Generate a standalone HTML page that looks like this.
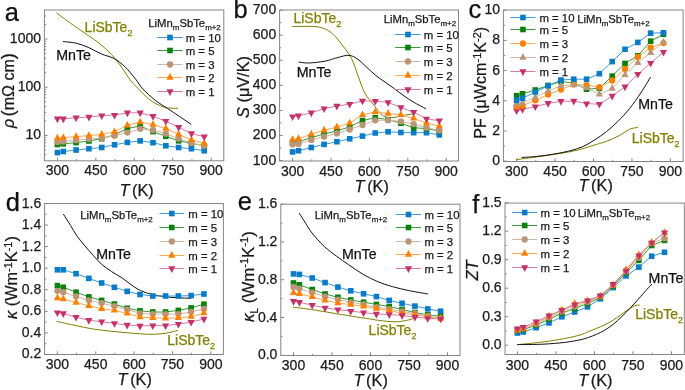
<!DOCTYPE html>
<html><head><meta charset="utf-8"><style>
html,body{margin:0;padding:0;background:#fff;}
body{width:685px;height:390px;overflow:hidden;}
svg{display:block;font-family:"Liberation Sans",sans-serif;will-change:transform;}
</style></head><body>
<svg xmlns="http://www.w3.org/2000/svg" width="685" height="390" viewBox="0 0 685 390" font-family='Liberation Sans, sans-serif'>
<rect width="685" height="390" fill="#fff"/>
<rect x="44.4" y="10" width="179.4" height="150.8" fill="none" stroke="#858585" stroke-width="1"/>
<line x1="57.4" y1="160.8" x2="57.4" y2="157.6" stroke="#858585" stroke-width="1"/>
<text x="57.4" y="175.1" font-size="14" text-anchor="middle" fill="#1a1a1a" stroke="#1a1a1a" stroke-width="0.25">300</text>
<line x1="95.84" y1="160.8" x2="95.84" y2="157.6" stroke="#858585" stroke-width="1"/>
<text x="95.84" y="175.1" font-size="14" text-anchor="middle" fill="#1a1a1a" stroke="#1a1a1a" stroke-width="0.25">450</text>
<line x1="134.29" y1="160.8" x2="134.29" y2="157.6" stroke="#858585" stroke-width="1"/>
<text x="134.29" y="175.1" font-size="14" text-anchor="middle" fill="#1a1a1a" stroke="#1a1a1a" stroke-width="0.25">600</text>
<line x1="172.73" y1="160.8" x2="172.73" y2="157.6" stroke="#858585" stroke-width="1"/>
<text x="172.73" y="175.1" font-size="14" text-anchor="middle" fill="#1a1a1a" stroke="#1a1a1a" stroke-width="0.25">750</text>
<line x1="211.18" y1="160.8" x2="211.18" y2="157.6" stroke="#858585" stroke-width="1"/>
<text x="211.18" y="175.1" font-size="14" text-anchor="middle" fill="#1a1a1a" stroke="#1a1a1a" stroke-width="0.25">900</text>
<line x1="76.62" y1="160.8" x2="76.62" y2="159.1" stroke="#858585" stroke-width="1"/>
<line x1="115.07" y1="160.8" x2="115.07" y2="159.1" stroke="#858585" stroke-width="1"/>
<line x1="153.51" y1="160.8" x2="153.51" y2="159.1" stroke="#858585" stroke-width="1"/>
<line x1="191.96" y1="160.8" x2="191.96" y2="159.1" stroke="#858585" stroke-width="1"/>
<line x1="44.4" y1="135.4" x2="47.6" y2="135.4" stroke="#858585" stroke-width="1"/>
<text x="41" y="139.4" font-size="14" text-anchor="end" fill="#1a1a1a" stroke="#1a1a1a" stroke-width="0.25">10</text>
<line x1="44.4" y1="87.2" x2="47.6" y2="87.2" stroke="#858585" stroke-width="1"/>
<text x="41" y="91.2" font-size="14" text-anchor="end" fill="#1a1a1a" stroke="#1a1a1a" stroke-width="0.25">100</text>
<line x1="44.4" y1="39" x2="47.6" y2="39" stroke="#858585" stroke-width="1"/>
<text x="41" y="43" font-size="14" text-anchor="end" fill="#1a1a1a" stroke="#1a1a1a" stroke-width="0.25">1000</text>
<line x1="44.4" y1="154.58" x2="46.1" y2="154.58" stroke="#858585" stroke-width="1"/>
<line x1="44.4" y1="149.91" x2="46.1" y2="149.91" stroke="#858585" stroke-width="1"/>
<line x1="44.4" y1="146.09" x2="46.1" y2="146.09" stroke="#858585" stroke-width="1"/>
<line x1="44.4" y1="142.87" x2="46.1" y2="142.87" stroke="#858585" stroke-width="1"/>
<line x1="44.4" y1="140.07" x2="46.1" y2="140.07" stroke="#858585" stroke-width="1"/>
<line x1="44.4" y1="137.61" x2="46.1" y2="137.61" stroke="#858585" stroke-width="1"/>
<line x1="44.4" y1="120.89" x2="46.1" y2="120.89" stroke="#858585" stroke-width="1"/>
<line x1="44.4" y1="112.4" x2="46.1" y2="112.4" stroke="#858585" stroke-width="1"/>
<line x1="44.4" y1="106.38" x2="46.1" y2="106.38" stroke="#858585" stroke-width="1"/>
<line x1="44.4" y1="101.71" x2="46.1" y2="101.71" stroke="#858585" stroke-width="1"/>
<line x1="44.4" y1="97.89" x2="46.1" y2="97.89" stroke="#858585" stroke-width="1"/>
<line x1="44.4" y1="94.67" x2="46.1" y2="94.67" stroke="#858585" stroke-width="1"/>
<line x1="44.4" y1="91.87" x2="46.1" y2="91.87" stroke="#858585" stroke-width="1"/>
<line x1="44.4" y1="89.41" x2="46.1" y2="89.41" stroke="#858585" stroke-width="1"/>
<line x1="44.4" y1="72.69" x2="46.1" y2="72.69" stroke="#858585" stroke-width="1"/>
<line x1="44.4" y1="64.2" x2="46.1" y2="64.2" stroke="#858585" stroke-width="1"/>
<line x1="44.4" y1="58.18" x2="46.1" y2="58.18" stroke="#858585" stroke-width="1"/>
<line x1="44.4" y1="53.51" x2="46.1" y2="53.51" stroke="#858585" stroke-width="1"/>
<line x1="44.4" y1="49.69" x2="46.1" y2="49.69" stroke="#858585" stroke-width="1"/>
<line x1="44.4" y1="46.47" x2="46.1" y2="46.47" stroke="#858585" stroke-width="1"/>
<line x1="44.4" y1="43.67" x2="46.1" y2="43.67" stroke="#858585" stroke-width="1"/>
<line x1="44.4" y1="41.21" x2="46.1" y2="41.21" stroke="#858585" stroke-width="1"/>
<line x1="44.4" y1="24.49" x2="46.1" y2="24.49" stroke="#858585" stroke-width="1"/>
<line x1="44.4" y1="16" x2="46.1" y2="16" stroke="#858585" stroke-width="1"/>
<path d="M56.9 13.2 C59.23 14.92 67.07 20.75 70.9 23.5 C74.73 26.25 76.9 27.62 79.9 29.7 C82.9 31.78 85.9 33.9 88.9 36 C91.9 38.1 94.92 39.98 97.9 42.3 C100.88 44.62 103.82 47.05 106.8 49.9 C109.78 52.75 113.1 56.18 115.8 59.4 C118.5 62.62 120.6 65.77 123 69.2 C125.4 72.63 127.93 77.05 130.2 80 C132.47 82.95 133.48 83.7 136.6 86.9 C139.72 90.1 145.13 96.13 148.9 99.2 C152.67 102.27 156.12 103.87 159.2 105.3 C162.28 106.73 164.33 107.28 167.4 107.8 C170.47 108.32 175.9 108.3 177.6 108.4" fill="none" stroke="#808000" stroke-width="1" stroke-linecap="round"/>
<path d="M63.4 41.6 C65.55 41.87 72.05 42.18 76.3 43.2 C80.55 44.22 84.7 45.9 88.9 47.7 C93.1 49.5 97.32 52.2 101.5 54 C105.68 55.8 110.12 56.4 114 58.5 C117.88 60.6 121.2 63.17 124.8 66.6 C128.4 70.03 132.6 75.38 135.6 79.1 C138.6 82.82 139.55 85.38 142.8 88.9 C146.05 92.42 151 96.95 155.1 100.2 C159.2 103.45 163.3 105.67 167.4 108.4 C171.5 111.13 175.78 113.97 179.7 116.6 C183.62 119.23 189.03 122.93 190.9 124.2" fill="none" stroke="#111111" stroke-width="1" stroke-linecap="round"/>
<polyline points="57.4,152.6 63.29,151.5 76.11,150 88.92,148.7 101.74,147.5 114.55,144.8 127.37,142.4 140.18,140.9 153,142.7 165.81,145.8 178.63,147.5 191.44,148.7 204.26,150.8" fill="none" stroke="#3b9ad8" stroke-width="1" stroke-linejoin="round"/>
<rect x="54.6" y="149.8" width="5.6" height="5.6" fill="#0b7bc8"/>
<rect x="60.49" y="148.7" width="5.6" height="5.6" fill="#0b7bc8"/>
<rect x="73.31" y="147.2" width="5.6" height="5.6" fill="#0b7bc8"/>
<rect x="86.12" y="145.9" width="5.6" height="5.6" fill="#0b7bc8"/>
<rect x="98.94" y="144.7" width="5.6" height="5.6" fill="#0b7bc8"/>
<rect x="111.75" y="142" width="5.6" height="5.6" fill="#0b7bc8"/>
<rect x="124.57" y="139.6" width="5.6" height="5.6" fill="#0b7bc8"/>
<rect x="137.38" y="138.1" width="5.6" height="5.6" fill="#0b7bc8"/>
<rect x="150.2" y="139.9" width="5.6" height="5.6" fill="#0b7bc8"/>
<rect x="163.01" y="143" width="5.6" height="5.6" fill="#0b7bc8"/>
<rect x="175.83" y="144.7" width="5.6" height="5.6" fill="#0b7bc8"/>
<rect x="188.64" y="145.9" width="5.6" height="5.6" fill="#0b7bc8"/>
<rect x="201.46" y="148" width="5.6" height="5.6" fill="#0b7bc8"/>
<polyline points="57.4,144.5 63.29,143.8 76.11,142.6 88.92,141 101.74,138.7 114.55,134.8 127.37,128.5 140.18,126 153,131.6 165.81,136.3 178.63,140.8 191.44,143.3 204.26,145.8" fill="none" stroke="#3a993a" stroke-width="1" stroke-linejoin="round"/>
<rect x="54.6" y="141.7" width="5.6" height="5.6" fill="#098009"/>
<rect x="60.49" y="141" width="5.6" height="5.6" fill="#098009"/>
<rect x="73.31" y="139.8" width="5.6" height="5.6" fill="#098009"/>
<rect x="86.12" y="138.2" width="5.6" height="5.6" fill="#098009"/>
<rect x="98.94" y="135.9" width="5.6" height="5.6" fill="#098009"/>
<rect x="111.75" y="132" width="5.6" height="5.6" fill="#098009"/>
<rect x="124.57" y="125.7" width="5.6" height="5.6" fill="#098009"/>
<rect x="137.38" y="123.2" width="5.6" height="5.6" fill="#098009"/>
<rect x="150.2" y="128.8" width="5.6" height="5.6" fill="#098009"/>
<rect x="163.01" y="133.5" width="5.6" height="5.6" fill="#098009"/>
<rect x="175.83" y="138" width="5.6" height="5.6" fill="#098009"/>
<rect x="188.64" y="140.5" width="5.6" height="5.6" fill="#098009"/>
<rect x="201.46" y="143" width="5.6" height="5.6" fill="#098009"/>
<polyline points="57.4,142 63.29,141.5 76.11,140.2 88.92,139 101.74,138 114.55,135.8 127.37,132.6 140.18,128.8 153,130 165.81,133.7 178.63,138.7 191.44,143 204.26,145.8" fill="none" stroke="#d3b7a2" stroke-width="1" stroke-linejoin="round"/>
<circle cx="57.4" cy="142" r="3.15" fill="#bb9578"/>
<circle cx="63.29" cy="141.5" r="3.15" fill="#bb9578"/>
<circle cx="76.11" cy="140.2" r="3.15" fill="#bb9578"/>
<circle cx="88.92" cy="139" r="3.15" fill="#bb9578"/>
<circle cx="101.74" cy="138" r="3.15" fill="#bb9578"/>
<circle cx="114.55" cy="135.8" r="3.15" fill="#bb9578"/>
<circle cx="127.37" cy="132.6" r="3.15" fill="#bb9578"/>
<circle cx="140.18" cy="128.8" r="3.15" fill="#bb9578"/>
<circle cx="153" cy="130" r="3.15" fill="#bb9578"/>
<circle cx="165.81" cy="133.7" r="3.15" fill="#bb9578"/>
<circle cx="178.63" cy="138.7" r="3.15" fill="#bb9578"/>
<circle cx="191.44" cy="143" r="3.15" fill="#bb9578"/>
<circle cx="204.26" cy="145.8" r="3.15" fill="#bb9578"/>
<polyline points="57.4,138.1 63.29,137.6 76.11,136.6 88.92,135.6 101.74,134.4 114.55,131.8 127.37,125.3 140.18,122.1 153,124.6 165.81,128.6 178.63,134.4 191.44,139.8 204.26,143.3" fill="none" stroke="#ffa850" stroke-width="1" stroke-linejoin="round"/>
<path d="M57.4 133.7L61 140.3L53.8 140.3Z" fill="#ff8000"/>
<path d="M63.29 133.2L66.89 139.8L59.69 139.8Z" fill="#ff8000"/>
<path d="M76.11 132.2L79.71 138.8L72.51 138.8Z" fill="#ff8000"/>
<path d="M88.92 131.2L92.52 137.8L85.32 137.8Z" fill="#ff8000"/>
<path d="M101.74 130L105.34 136.6L98.14 136.6Z" fill="#ff8000"/>
<path d="M114.55 127.4L118.15 134L110.95 134Z" fill="#ff8000"/>
<path d="M127.37 120.9L130.97 127.5L123.77 127.5Z" fill="#ff8000"/>
<path d="M140.18 117.7L143.78 124.3L136.58 124.3Z" fill="#ff8000"/>
<path d="M153 120.2L156.6 126.8L149.4 126.8Z" fill="#ff8000"/>
<path d="M165.81 124.2L169.41 130.8L162.21 130.8Z" fill="#ff8000"/>
<path d="M178.63 130L182.23 136.6L175.03 136.6Z" fill="#ff8000"/>
<path d="M191.44 135.4L195.04 142L187.84 142Z" fill="#ff8000"/>
<path d="M204.26 138.9L207.86 145.5L200.66 145.5Z" fill="#ff8000"/>
<polyline points="57.4,118.8 63.29,118.8 76.11,117.8 88.92,117 101.74,115.6 114.55,115.1 127.37,112.8 140.18,112.8 153,116.3 165.81,121.2 178.63,127.3 191.44,133.5 204.26,136.8" fill="none" stroke="#d97aa0" stroke-width="1" stroke-linejoin="round"/>
<path d="M53.8 116.6L61 116.6L57.4 123.2Z" fill="#c2336b"/>
<path d="M59.69 116.6L66.89 116.6L63.29 123.2Z" fill="#c2336b"/>
<path d="M72.51 115.6L79.71 115.6L76.11 122.2Z" fill="#c2336b"/>
<path d="M85.32 114.8L92.52 114.8L88.92 121.4Z" fill="#c2336b"/>
<path d="M98.14 113.4L105.34 113.4L101.74 120Z" fill="#c2336b"/>
<path d="M110.95 112.9L118.15 112.9L114.55 119.5Z" fill="#c2336b"/>
<path d="M123.77 110.6L130.97 110.6L127.37 117.2Z" fill="#c2336b"/>
<path d="M136.58 110.6L143.78 110.6L140.18 117.2Z" fill="#c2336b"/>
<path d="M149.4 114.1L156.6 114.1L153 120.7Z" fill="#c2336b"/>
<path d="M162.21 119L169.41 119L165.81 125.6Z" fill="#c2336b"/>
<path d="M175.03 125.1L182.23 125.1L178.63 131.7Z" fill="#c2336b"/>
<path d="M187.84 131.3L195.04 131.3L191.44 137.9Z" fill="#c2336b"/>
<path d="M200.66 134.6L207.86 134.6L204.26 141.2Z" fill="#c2336b"/>
<text x="84.6" y="31.7" font-size="14" fill="#808000" stroke="#808000" stroke-width="0.25">LiSbTe<tspan font-size="8.96" dy="3.8">2</tspan></text>
<text x="56.3" y="59.7" font-size="14.2" text-anchor="start" fill="#111111" stroke="#111111" stroke-width="0.25">MnTe</text>
<text x="148.3" y="27.3" font-size="11.3" text-anchor="start" fill="#1a1a1a" stroke="#1a1a1a" stroke-width="0.25">LiMn<tspan font-size="7.91" dy="3">m</tspan><tspan dy="-3">SbTe</tspan><tspan font-size="7.91" dy="3">m+2</tspan></text>
<line x1="157.3" y1="37.5" x2="182.7" y2="37.5" stroke="#3b9ad8" stroke-width="1"/>
<rect x="167.2" y="34.7" width="5.6" height="5.6" fill="#0b7bc8"/>
<text x="185.7" y="41.6" font-size="11.4" text-anchor="start" fill="#1a1a1a" stroke="#1a1a1a" stroke-width="0.25">m = 10</text>
<line x1="157.3" y1="50.5" x2="182.7" y2="50.5" stroke="#3a993a" stroke-width="1"/>
<rect x="167.2" y="47.7" width="5.6" height="5.6" fill="#098009"/>
<text x="185.7" y="54.6" font-size="11.4" text-anchor="start" fill="#1a1a1a" stroke="#1a1a1a" stroke-width="0.25">m = 5</text>
<line x1="157.3" y1="64.5" x2="182.7" y2="64.5" stroke="#d3b7a2" stroke-width="1"/>
<circle cx="170" cy="64.5" r="3.15" fill="#bb9578"/>
<text x="185.7" y="68.6" font-size="11.4" text-anchor="start" fill="#1a1a1a" stroke="#1a1a1a" stroke-width="0.25">m = 3</text>
<line x1="157.3" y1="77.5" x2="182.7" y2="77.5" stroke="#ffa850" stroke-width="1"/>
<path d="M170 73.1L173.6 79.7L166.4 79.7Z" fill="#ff8000"/>
<text x="185.7" y="81.6" font-size="11.4" text-anchor="start" fill="#1a1a1a" stroke="#1a1a1a" stroke-width="0.25">m = 2</text>
<line x1="157.3" y1="91.5" x2="182.7" y2="91.5" stroke="#d97aa0" stroke-width="1"/>
<path d="M166.4 89.3L173.6 89.3L170 95.9Z" fill="#c2336b"/>
<text x="185.7" y="95.6" font-size="11.4" text-anchor="start" fill="#1a1a1a" stroke="#1a1a1a" stroke-width="0.25">m = 1</text>
<text x="4.8" y="21.1" font-size="25.5" text-anchor="start" fill="#111111" stroke="#111111" stroke-width="0.25">a</text>
<text transform="translate(13.6 84.8) rotate(-90)" x="0" y="0" font-size="16" text-anchor="middle" fill="#1a1a1a" stroke="#1a1a1a" stroke-width="0.25"><tspan font-size="18.5">(</tspan>mΩ cm<tspan font-size="18.5">)</tspan></text>
<text transform="translate(14.4 123.5) rotate(-90)" x="0" y="0" font-size="16" text-anchor="middle" fill="#1a1a1a" stroke="#1a1a1a" stroke-width="0.25"><tspan font-style="italic">ρ</tspan></text>
<text x="119.4" y="195.8" font-size="16.3" fill="#1a1a1a" font-style="italic" stroke="#1a1a1a" stroke-width="0.25">T</text><text x="132" y="195.8" font-size="16.3" fill="#1a1a1a" stroke="#1a1a1a" stroke-width="0.25">(K)</text>
<rect x="279.6" y="10" width="178.9" height="151" fill="none" stroke="#858585" stroke-width="1"/>
<line x1="292.6" y1="161" x2="292.6" y2="157.8" stroke="#858585" stroke-width="1"/>
<text x="292.6" y="175.9" font-size="14" text-anchor="middle" fill="#1a1a1a" stroke="#1a1a1a" stroke-width="0.25">300</text>
<line x1="331" y1="161" x2="331" y2="157.8" stroke="#858585" stroke-width="1"/>
<text x="331" y="175.9" font-size="14" text-anchor="middle" fill="#1a1a1a" stroke="#1a1a1a" stroke-width="0.25">450</text>
<line x1="369.4" y1="161" x2="369.4" y2="157.8" stroke="#858585" stroke-width="1"/>
<text x="369.4" y="175.9" font-size="14" text-anchor="middle" fill="#1a1a1a" stroke="#1a1a1a" stroke-width="0.25">600</text>
<line x1="407.8" y1="161" x2="407.8" y2="157.8" stroke="#858585" stroke-width="1"/>
<text x="407.8" y="175.9" font-size="14" text-anchor="middle" fill="#1a1a1a" stroke="#1a1a1a" stroke-width="0.25">750</text>
<line x1="446.2" y1="161" x2="446.2" y2="157.8" stroke="#858585" stroke-width="1"/>
<text x="446.2" y="175.9" font-size="14" text-anchor="middle" fill="#1a1a1a" stroke="#1a1a1a" stroke-width="0.25">900</text>
<line x1="311.8" y1="161" x2="311.8" y2="159.3" stroke="#858585" stroke-width="1"/>
<line x1="350.2" y1="161" x2="350.2" y2="159.3" stroke="#858585" stroke-width="1"/>
<line x1="388.6" y1="161" x2="388.6" y2="159.3" stroke="#858585" stroke-width="1"/>
<line x1="427" y1="161" x2="427" y2="159.3" stroke="#858585" stroke-width="1"/>
<line x1="279.6" y1="160.5" x2="282.8" y2="160.5" stroke="#858585" stroke-width="1"/>
<text x="276.2" y="164.5" font-size="14" text-anchor="end" fill="#1a1a1a" stroke="#1a1a1a" stroke-width="0.25">100</text>
<line x1="279.6" y1="135.45" x2="282.8" y2="135.45" stroke="#858585" stroke-width="1"/>
<text x="276.2" y="139.45" font-size="14" text-anchor="end" fill="#1a1a1a" stroke="#1a1a1a" stroke-width="0.25">200</text>
<line x1="279.6" y1="110.4" x2="282.8" y2="110.4" stroke="#858585" stroke-width="1"/>
<text x="276.2" y="114.4" font-size="14" text-anchor="end" fill="#1a1a1a" stroke="#1a1a1a" stroke-width="0.25">300</text>
<line x1="279.6" y1="85.35" x2="282.8" y2="85.35" stroke="#858585" stroke-width="1"/>
<text x="276.2" y="89.35" font-size="14" text-anchor="end" fill="#1a1a1a" stroke="#1a1a1a" stroke-width="0.25">400</text>
<line x1="279.6" y1="60.3" x2="282.8" y2="60.3" stroke="#858585" stroke-width="1"/>
<text x="276.2" y="64.3" font-size="14" text-anchor="end" fill="#1a1a1a" stroke="#1a1a1a" stroke-width="0.25">500</text>
<line x1="279.6" y1="35.25" x2="282.8" y2="35.25" stroke="#858585" stroke-width="1"/>
<text x="276.2" y="39.25" font-size="14" text-anchor="end" fill="#1a1a1a" stroke="#1a1a1a" stroke-width="0.25">600</text>
<line x1="279.6" y1="10.2" x2="282.8" y2="10.2" stroke="#858585" stroke-width="1"/>
<text x="276.2" y="14.2" font-size="14" text-anchor="end" fill="#1a1a1a" stroke="#1a1a1a" stroke-width="0.25">700</text>
<line x1="279.6" y1="147.97" x2="281.3" y2="147.97" stroke="#858585" stroke-width="1"/>
<line x1="279.6" y1="122.92" x2="281.3" y2="122.92" stroke="#858585" stroke-width="1"/>
<line x1="279.6" y1="97.88" x2="281.3" y2="97.88" stroke="#858585" stroke-width="1"/>
<line x1="279.6" y1="72.83" x2="281.3" y2="72.83" stroke="#858585" stroke-width="1"/>
<line x1="279.6" y1="47.78" x2="281.3" y2="47.78" stroke="#858585" stroke-width="1"/>
<line x1="279.6" y1="22.73" x2="281.3" y2="22.73" stroke="#858585" stroke-width="1"/>
<path d="M292.6 26.5 C294.67 26.48 301.12 26.38 305 26.4 C308.88 26.42 312.28 26.05 315.9 26.6 C319.52 27.15 323.4 27.98 326.7 29.7 C330 31.42 333.02 34.2 335.7 36.9 C338.38 39.6 340.58 43.05 342.8 45.9 C345.02 48.75 347.22 51.15 349 54 C350.78 56.85 352.23 60.02 353.5 63 C354.77 65.98 355.53 68.92 356.6 71.9 C357.67 74.88 358.78 77.9 359.9 80.9 C361.02 83.9 362.08 87.22 363.3 89.9 C364.52 92.58 365.85 94.98 367.2 97 C368.55 99.02 369.68 99.85 371.4 102 C373.12 104.15 375.75 107.78 377.5 109.9 C379.25 112.02 380.58 113.53 381.9 114.7 C383.22 115.87 384.23 116.37 385.4 116.9 C386.57 117.43 387.3 117.83 388.9 117.9 C390.5 117.97 392.82 117.65 395 117.3 C397.18 116.95 399.67 116.28 402 115.8 C404.33 115.32 407.1 114.73 409 114.4 C410.9 114.07 412.67 113.9 413.4 113.8" fill="none" stroke="#808000" stroke-width="1" stroke-linecap="round"/>
<path d="M298.9 62.1 C300.53 62.25 304.37 63.15 308.7 63 C313.03 62.85 320.1 62.1 324.9 61.2 C329.7 60.3 333.48 58.58 337.5 57.6 C341.52 56.62 345.58 55 349 55.3 C352.42 55.6 355.02 57.38 358 59.4 C360.98 61.42 363.92 64.72 366.9 67.4 C369.88 70.08 372.88 73.05 375.9 75.5 C378.92 77.95 381.9 79.88 385 82.1 C388.1 84.32 391.33 86.5 394.5 88.8 C397.67 91.1 400.83 93.68 404 95.9 C407.17 98.12 409.87 99.97 413.5 102.1 C417.13 104.23 423.75 107.6 425.8 108.7" fill="none" stroke="#111111" stroke-width="1" stroke-linecap="round"/>
<polyline points="292.6,151.9 298.49,150.7 311.29,147.5 324.09,144.4 336.89,141.7 349.69,138.8 362.49,136.1 375.29,133 388.09,131.8 400.89,132.5 413.69,132.7 426.49,132.7 439.29,134.9" fill="none" stroke="#3b9ad8" stroke-width="1" stroke-linejoin="round"/>
<rect x="289.8" y="149.1" width="5.6" height="5.6" fill="#0b7bc8"/>
<rect x="295.69" y="147.9" width="5.6" height="5.6" fill="#0b7bc8"/>
<rect x="308.49" y="144.7" width="5.6" height="5.6" fill="#0b7bc8"/>
<rect x="321.29" y="141.6" width="5.6" height="5.6" fill="#0b7bc8"/>
<rect x="334.09" y="138.9" width="5.6" height="5.6" fill="#0b7bc8"/>
<rect x="346.89" y="136" width="5.6" height="5.6" fill="#0b7bc8"/>
<rect x="359.69" y="133.3" width="5.6" height="5.6" fill="#0b7bc8"/>
<rect x="372.49" y="130.2" width="5.6" height="5.6" fill="#0b7bc8"/>
<rect x="385.29" y="129" width="5.6" height="5.6" fill="#0b7bc8"/>
<rect x="398.09" y="129.7" width="5.6" height="5.6" fill="#0b7bc8"/>
<rect x="410.89" y="129.9" width="5.6" height="5.6" fill="#0b7bc8"/>
<rect x="423.69" y="129.9" width="5.6" height="5.6" fill="#0b7bc8"/>
<rect x="436.49" y="132.1" width="5.6" height="5.6" fill="#0b7bc8"/>
<polyline points="292.6,142.1 298.49,141.7 311.29,137.6 324.09,134 336.89,130.9 349.69,126.8 362.49,120.5 375.29,117.8 388.09,119.6 400.89,123.2 413.69,127.7 426.49,128.6 439.29,130.9" fill="none" stroke="#3a993a" stroke-width="1" stroke-linejoin="round"/>
<rect x="289.8" y="139.3" width="5.6" height="5.6" fill="#098009"/>
<rect x="295.69" y="138.9" width="5.6" height="5.6" fill="#098009"/>
<rect x="308.49" y="134.8" width="5.6" height="5.6" fill="#098009"/>
<rect x="321.29" y="131.2" width="5.6" height="5.6" fill="#098009"/>
<rect x="334.09" y="128.1" width="5.6" height="5.6" fill="#098009"/>
<rect x="346.89" y="124" width="5.6" height="5.6" fill="#098009"/>
<rect x="359.69" y="117.7" width="5.6" height="5.6" fill="#098009"/>
<rect x="372.49" y="115" width="5.6" height="5.6" fill="#098009"/>
<rect x="385.29" y="116.8" width="5.6" height="5.6" fill="#098009"/>
<rect x="398.09" y="120.4" width="5.6" height="5.6" fill="#098009"/>
<rect x="410.89" y="124.9" width="5.6" height="5.6" fill="#098009"/>
<rect x="423.69" y="125.8" width="5.6" height="5.6" fill="#098009"/>
<rect x="436.49" y="128.1" width="5.6" height="5.6" fill="#098009"/>
<polyline points="292.6,144.4 298.49,143.9 311.29,139.9 324.09,136.7 336.89,133.4 349.69,129.5 362.49,125 375.29,120.3 388.09,120.2 400.89,121.4 413.69,124.1 426.49,127.7 439.29,130.4" fill="none" stroke="#d3b7a2" stroke-width="1" stroke-linejoin="round"/>
<circle cx="292.6" cy="144.4" r="3.15" fill="#bb9578"/>
<circle cx="298.49" cy="143.9" r="3.15" fill="#bb9578"/>
<circle cx="311.29" cy="139.9" r="3.15" fill="#bb9578"/>
<circle cx="324.09" cy="136.7" r="3.15" fill="#bb9578"/>
<circle cx="336.89" cy="133.4" r="3.15" fill="#bb9578"/>
<circle cx="349.69" cy="129.5" r="3.15" fill="#bb9578"/>
<circle cx="362.49" cy="125" r="3.15" fill="#bb9578"/>
<circle cx="375.29" cy="120.3" r="3.15" fill="#bb9578"/>
<circle cx="388.09" cy="120.2" r="3.15" fill="#bb9578"/>
<circle cx="400.89" cy="121.4" r="3.15" fill="#bb9578"/>
<circle cx="413.69" cy="124.1" r="3.15" fill="#bb9578"/>
<circle cx="426.49" cy="127.7" r="3.15" fill="#bb9578"/>
<circle cx="439.29" cy="130.4" r="3.15" fill="#bb9578"/>
<polyline points="292.6,139.6 298.49,138.7 311.29,134.2 324.09,130.2 336.89,127 349.69,123.1 362.49,114.8 375.29,112 388.09,113.5 400.89,114.8 413.69,118.4 426.49,123.1 439.29,126.1" fill="none" stroke="#ffa850" stroke-width="1" stroke-linejoin="round"/>
<path d="M292.6 135.2L296.2 141.8L289 141.8Z" fill="#ff8000"/>
<path d="M298.49 134.3L302.09 140.9L294.89 140.9Z" fill="#ff8000"/>
<path d="M311.29 129.8L314.89 136.4L307.69 136.4Z" fill="#ff8000"/>
<path d="M324.09 125.8L327.69 132.4L320.49 132.4Z" fill="#ff8000"/>
<path d="M336.89 122.6L340.49 129.2L333.29 129.2Z" fill="#ff8000"/>
<path d="M349.69 118.7L353.29 125.3L346.09 125.3Z" fill="#ff8000"/>
<path d="M362.49 110.4L366.09 117L358.89 117Z" fill="#ff8000"/>
<path d="M375.29 107.6L378.89 114.2L371.69 114.2Z" fill="#ff8000"/>
<path d="M388.09 109.1L391.69 115.7L384.49 115.7Z" fill="#ff8000"/>
<path d="M400.89 110.4L404.49 117L397.29 117Z" fill="#ff8000"/>
<path d="M413.69 114L417.29 120.6L410.09 120.6Z" fill="#ff8000"/>
<path d="M426.49 118.7L430.09 125.3L422.89 125.3Z" fill="#ff8000"/>
<path d="M439.29 121.7L442.89 128.3L435.69 128.3Z" fill="#ff8000"/>
<polyline points="292.6,116.7 298.49,115.8 311.29,112.8 324.09,108.7 336.89,106 349.69,104.2 362.49,100.9 375.29,101.2 388.09,102.4 400.89,107.4 413.69,112.2 426.49,118.9 439.29,120.7" fill="none" stroke="#d97aa0" stroke-width="1" stroke-linejoin="round"/>
<path d="M289 114.5L296.2 114.5L292.6 121.1Z" fill="#c2336b"/>
<path d="M294.89 113.6L302.09 113.6L298.49 120.2Z" fill="#c2336b"/>
<path d="M307.69 110.6L314.89 110.6L311.29 117.2Z" fill="#c2336b"/>
<path d="M320.49 106.5L327.69 106.5L324.09 113.1Z" fill="#c2336b"/>
<path d="M333.29 103.8L340.49 103.8L336.89 110.4Z" fill="#c2336b"/>
<path d="M346.09 102L353.29 102L349.69 108.6Z" fill="#c2336b"/>
<path d="M358.89 98.7L366.09 98.7L362.49 105.3Z" fill="#c2336b"/>
<path d="M371.69 99L378.89 99L375.29 105.6Z" fill="#c2336b"/>
<path d="M384.49 100.2L391.69 100.2L388.09 106.8Z" fill="#c2336b"/>
<path d="M397.29 105.2L404.49 105.2L400.89 111.8Z" fill="#c2336b"/>
<path d="M410.09 110L417.29 110L413.69 116.6Z" fill="#c2336b"/>
<path d="M422.89 116.7L430.09 116.7L426.49 123.3Z" fill="#c2336b"/>
<path d="M435.69 118.5L442.89 118.5L439.29 125.1Z" fill="#c2336b"/>
<text x="293.4" y="22.9" font-size="14" fill="#808000" stroke="#808000" stroke-width="0.25">LiSbTe<tspan font-size="8.96" dy="3.8">2</tspan></text>
<text x="296.8" y="77.2" font-size="14.2" text-anchor="start" fill="#111111" stroke="#111111" stroke-width="0.25">MnTe</text>
<text x="383.7" y="22.6" font-size="11.3" text-anchor="start" fill="#1a1a1a" stroke="#1a1a1a" stroke-width="0.25">LiMn<tspan font-size="7.91" dy="3">m</tspan><tspan dy="-3">SbTe</tspan><tspan font-size="7.91" dy="3">m+2</tspan></text>
<line x1="395.2" y1="34.5" x2="420.7" y2="34.5" stroke="#3b9ad8" stroke-width="1"/>
<rect x="405.15" y="31.7" width="5.6" height="5.6" fill="#0b7bc8"/>
<text x="423.8" y="38.6" font-size="11.4" text-anchor="start" fill="#1a1a1a" stroke="#1a1a1a" stroke-width="0.25">m = 10</text>
<line x1="395.2" y1="47.5" x2="420.7" y2="47.5" stroke="#3a993a" stroke-width="1"/>
<rect x="405.15" y="44.7" width="5.6" height="5.6" fill="#098009"/>
<text x="423.8" y="51.6" font-size="11.4" text-anchor="start" fill="#1a1a1a" stroke="#1a1a1a" stroke-width="0.25">m = 5</text>
<line x1="395.2" y1="61.5" x2="420.7" y2="61.5" stroke="#d3b7a2" stroke-width="1"/>
<circle cx="407.95" cy="61.5" r="3.15" fill="#bb9578"/>
<text x="423.8" y="65.6" font-size="11.4" text-anchor="start" fill="#1a1a1a" stroke="#1a1a1a" stroke-width="0.25">m = 3</text>
<line x1="395.2" y1="75.5" x2="420.7" y2="75.5" stroke="#ffa850" stroke-width="1"/>
<path d="M407.95 71.1L411.55 77.7L404.35 77.7Z" fill="#ff8000"/>
<text x="423.8" y="79.6" font-size="11.4" text-anchor="start" fill="#1a1a1a" stroke="#1a1a1a" stroke-width="0.25">m = 2</text>
<line x1="395.2" y1="89.5" x2="420.7" y2="89.5" stroke="#d97aa0" stroke-width="1"/>
<path d="M404.35 87.3L411.55 87.3L407.95 93.9Z" fill="#c2336b"/>
<text x="423.8" y="93.6" font-size="11.4" text-anchor="start" fill="#1a1a1a" stroke="#1a1a1a" stroke-width="0.25">m = 1</text>
<text x="233.4" y="17.9" font-size="25.5" text-anchor="start" fill="#111111" stroke="#111111" stroke-width="0.25">b</text>
<text transform="translate(249.3 87) rotate(-90)" x="0" y="0" font-size="16.3" text-anchor="middle" fill="#1a1a1a" stroke="#1a1a1a" stroke-width="0.25"><tspan font-style="italic">S</tspan> (μV/K)</text>
<text x="354.6" y="191.8" font-size="16.3" fill="#1a1a1a" font-style="italic" stroke="#1a1a1a" stroke-width="0.25">T</text><text x="367.2" y="191.8" font-size="16.3" fill="#1a1a1a" stroke="#1a1a1a" stroke-width="0.25">(K)</text>
<rect x="503.4" y="10" width="179.7" height="151.5" fill="none" stroke="#858585" stroke-width="1"/>
<line x1="516.6" y1="161.5" x2="516.6" y2="158.3" stroke="#858585" stroke-width="1"/>
<text x="516.6" y="176.2" font-size="14" text-anchor="middle" fill="#1a1a1a" stroke="#1a1a1a" stroke-width="0.25">300</text>
<line x1="555.05" y1="161.5" x2="555.05" y2="158.3" stroke="#858585" stroke-width="1"/>
<text x="555.05" y="176.2" font-size="14" text-anchor="middle" fill="#1a1a1a" stroke="#1a1a1a" stroke-width="0.25">450</text>
<line x1="593.49" y1="161.5" x2="593.49" y2="158.3" stroke="#858585" stroke-width="1"/>
<text x="593.49" y="176.2" font-size="14" text-anchor="middle" fill="#1a1a1a" stroke="#1a1a1a" stroke-width="0.25">600</text>
<line x1="631.94" y1="161.5" x2="631.94" y2="158.3" stroke="#858585" stroke-width="1"/>
<text x="631.94" y="176.2" font-size="14" text-anchor="middle" fill="#1a1a1a" stroke="#1a1a1a" stroke-width="0.25">750</text>
<line x1="670.38" y1="161.5" x2="670.38" y2="158.3" stroke="#858585" stroke-width="1"/>
<text x="670.38" y="176.2" font-size="14" text-anchor="middle" fill="#1a1a1a" stroke="#1a1a1a" stroke-width="0.25">900</text>
<line x1="535.82" y1="161.5" x2="535.82" y2="159.8" stroke="#858585" stroke-width="1"/>
<line x1="574.27" y1="161.5" x2="574.27" y2="159.8" stroke="#858585" stroke-width="1"/>
<line x1="612.71" y1="161.5" x2="612.71" y2="159.8" stroke="#858585" stroke-width="1"/>
<line x1="651.16" y1="161.5" x2="651.16" y2="159.8" stroke="#858585" stroke-width="1"/>
<line x1="503.4" y1="161.1" x2="506.6" y2="161.1" stroke="#858585" stroke-width="1"/>
<text x="500" y="165.1" font-size="14" text-anchor="end" fill="#1a1a1a" stroke="#1a1a1a" stroke-width="0.25">0</text>
<line x1="503.4" y1="130.92" x2="506.6" y2="130.92" stroke="#858585" stroke-width="1"/>
<text x="500" y="134.92" font-size="14" text-anchor="end" fill="#1a1a1a" stroke="#1a1a1a" stroke-width="0.25">2</text>
<line x1="503.4" y1="100.74" x2="506.6" y2="100.74" stroke="#858585" stroke-width="1"/>
<text x="500" y="104.74" font-size="14" text-anchor="end" fill="#1a1a1a" stroke="#1a1a1a" stroke-width="0.25">4</text>
<line x1="503.4" y1="70.56" x2="506.6" y2="70.56" stroke="#858585" stroke-width="1"/>
<text x="500" y="74.56" font-size="14" text-anchor="end" fill="#1a1a1a" stroke="#1a1a1a" stroke-width="0.25">6</text>
<line x1="503.4" y1="40.38" x2="506.6" y2="40.38" stroke="#858585" stroke-width="1"/>
<text x="500" y="44.38" font-size="14" text-anchor="end" fill="#1a1a1a" stroke="#1a1a1a" stroke-width="0.25">8</text>
<line x1="503.4" y1="10.2" x2="506.6" y2="10.2" stroke="#858585" stroke-width="1"/>
<text x="500" y="14.2" font-size="14" text-anchor="end" fill="#1a1a1a" stroke="#1a1a1a" stroke-width="0.25">10</text>
<line x1="503.4" y1="146.01" x2="505.1" y2="146.01" stroke="#858585" stroke-width="1"/>
<line x1="503.4" y1="115.83" x2="505.1" y2="115.83" stroke="#858585" stroke-width="1"/>
<line x1="503.4" y1="85.65" x2="505.1" y2="85.65" stroke="#858585" stroke-width="1"/>
<line x1="503.4" y1="55.47" x2="505.1" y2="55.47" stroke="#858585" stroke-width="1"/>
<line x1="503.4" y1="25.29" x2="505.1" y2="25.29" stroke="#858585" stroke-width="1"/>
<path d="M516.7 159.6 C520.07 159.15 529.93 157.88 536.9 156.9 C543.87 155.92 551.77 154.82 558.5 153.7 C565.23 152.58 571.02 151.73 577.3 150.2 C583.58 148.67 591.33 145.98 596.2 144.5 C601.07 143.02 602.85 142.68 606.5 141.3 C610.15 139.92 614.25 138.2 618.1 136.2 C621.95 134.2 626.33 130.77 629.6 129.3 C632.87 127.83 636.35 127.72 637.7 127.4" fill="none" stroke="#808000" stroke-width="1" stroke-linecap="round"/>
<path d="M522.1 157.5 C524.57 157.32 531.73 156.95 536.9 156.4 C542.07 155.85 547.72 155.1 553.1 154.2 C558.48 153.3 564.27 152.25 569.2 151 C574.13 149.75 578.4 148.58 582.7 146.7 C587 144.82 591.03 142.22 595 139.7 C598.97 137.18 602.65 134.68 606.5 131.6 C610.35 128.52 614.25 125.05 618.1 121.2 C621.95 117.35 625.75 113.32 629.6 108.5 C633.45 103.68 637.73 97.5 641.2 92.3 C644.67 87.1 648.87 79.8 650.4 77.3" fill="none" stroke="#111111" stroke-width="1" stroke-linecap="round"/>
<polyline points="516.6,110.6 522.49,109.3 535.31,106.7 548.12,103.3 560.94,101.3 573.75,101 586.57,103.6 599.38,104.2 612.2,96 625.01,86.8 637.83,74.1 650.64,63.2 663.46,52.1" fill="none" stroke="#d97aa0" stroke-width="1" stroke-linejoin="round"/>
<path d="M513 108.4L520.2 108.4L516.6 115Z" fill="#c2336b"/>
<path d="M518.89 107.1L526.09 107.1L522.49 113.7Z" fill="#c2336b"/>
<path d="M531.71 104.5L538.91 104.5L535.31 111.1Z" fill="#c2336b"/>
<path d="M544.52 101.1L551.72 101.1L548.12 107.7Z" fill="#c2336b"/>
<path d="M557.34 99.1L564.54 99.1L560.94 105.7Z" fill="#c2336b"/>
<path d="M570.15 98.8L577.35 98.8L573.75 105.4Z" fill="#c2336b"/>
<path d="M582.97 101.4L590.17 101.4L586.57 108Z" fill="#c2336b"/>
<path d="M595.78 102L602.98 102L599.38 108.6Z" fill="#c2336b"/>
<path d="M608.6 93.8L615.8 93.8L612.2 100.4Z" fill="#c2336b"/>
<path d="M621.41 84.6L628.61 84.6L625.01 91.2Z" fill="#c2336b"/>
<path d="M634.23 71.9L641.43 71.9L637.83 78.5Z" fill="#c2336b"/>
<path d="M647.04 61L654.24 61L650.64 67.6Z" fill="#c2336b"/>
<path d="M659.86 49.9L667.06 49.9L663.46 56.5Z" fill="#c2336b"/>
<polyline points="516.6,95.7 522.49,93.8 535.31,90 548.12,85.4 560.94,81.5 573.75,83.1 586.57,89.2 599.38,88.3 612.2,76.1 625.01,63.4 637.83,55.8 650.64,41.2 663.46,34.3" fill="none" stroke="#3a993a" stroke-width="1" stroke-linejoin="round"/>
<rect x="513.8" y="92.9" width="5.6" height="5.6" fill="#098009"/>
<rect x="519.69" y="91" width="5.6" height="5.6" fill="#098009"/>
<rect x="532.51" y="87.2" width="5.6" height="5.6" fill="#098009"/>
<rect x="545.32" y="82.6" width="5.6" height="5.6" fill="#098009"/>
<rect x="558.14" y="78.7" width="5.6" height="5.6" fill="#098009"/>
<rect x="570.95" y="80.3" width="5.6" height="5.6" fill="#098009"/>
<rect x="583.77" y="86.4" width="5.6" height="5.6" fill="#098009"/>
<rect x="596.58" y="85.5" width="5.6" height="5.6" fill="#098009"/>
<rect x="609.4" y="73.3" width="5.6" height="5.6" fill="#098009"/>
<rect x="622.21" y="60.6" width="5.6" height="5.6" fill="#098009"/>
<rect x="635.03" y="53" width="5.6" height="5.6" fill="#098009"/>
<rect x="647.84" y="38.4" width="5.6" height="5.6" fill="#098009"/>
<rect x="660.66" y="31.5" width="5.6" height="5.6" fill="#098009"/>
<polyline points="516.6,106.5 522.49,105.8 535.31,100.3 548.12,94.6 560.94,89.5 573.75,84.6 586.57,85.1 599.38,87.2 612.2,80.5 625.01,69 637.83,57 650.64,47.7 663.46,43.1" fill="none" stroke="#ffa850" stroke-width="1" stroke-linejoin="round"/>
<circle cx="516.6" cy="106.5" r="3.15" fill="#ff8000"/>
<circle cx="522.49" cy="105.8" r="3.15" fill="#ff8000"/>
<circle cx="535.31" cy="100.3" r="3.15" fill="#ff8000"/>
<circle cx="548.12" cy="94.6" r="3.15" fill="#ff8000"/>
<circle cx="560.94" cy="89.5" r="3.15" fill="#ff8000"/>
<circle cx="573.75" cy="84.6" r="3.15" fill="#ff8000"/>
<circle cx="586.57" cy="85.1" r="3.15" fill="#ff8000"/>
<circle cx="599.38" cy="87.2" r="3.15" fill="#ff8000"/>
<circle cx="612.2" cy="80.5" r="3.15" fill="#ff8000"/>
<circle cx="625.01" cy="69" r="3.15" fill="#ff8000"/>
<circle cx="637.83" cy="57" r="3.15" fill="#ff8000"/>
<circle cx="650.64" cy="47.7" r="3.15" fill="#ff8000"/>
<circle cx="663.46" cy="43.1" r="3.15" fill="#ff8000"/>
<polyline points="516.6,104.1 522.49,102.9 535.31,97.3 548.12,91.1 560.94,85.7 573.75,84.9 586.57,88 599.38,94.3 612.2,88.5 625.01,74.7 637.83,62.7 650.64,52.7 663.46,42.3" fill="none" stroke="#d3b7a2" stroke-width="1" stroke-linejoin="round"/>
<path d="M516.6 99.7L520.2 106.3L513 106.3Z" fill="#bb9578"/>
<path d="M522.49 98.5L526.09 105.1L518.89 105.1Z" fill="#bb9578"/>
<path d="M535.31 92.9L538.91 99.5L531.71 99.5Z" fill="#bb9578"/>
<path d="M548.12 86.7L551.72 93.3L544.52 93.3Z" fill="#bb9578"/>
<path d="M560.94 81.3L564.54 87.9L557.34 87.9Z" fill="#bb9578"/>
<path d="M573.75 80.5L577.35 87.1L570.15 87.1Z" fill="#bb9578"/>
<path d="M586.57 83.6L590.17 90.2L582.97 90.2Z" fill="#bb9578"/>
<path d="M599.38 89.9L602.98 96.5L595.78 96.5Z" fill="#bb9578"/>
<path d="M612.2 84.1L615.8 90.7L608.6 90.7Z" fill="#bb9578"/>
<path d="M625.01 70.3L628.61 76.9L621.41 76.9Z" fill="#bb9578"/>
<path d="M637.83 58.3L641.43 64.9L634.23 64.9Z" fill="#bb9578"/>
<path d="M650.64 48.3L654.24 54.9L647.04 54.9Z" fill="#bb9578"/>
<path d="M663.46 37.9L667.06 44.5L659.86 44.5Z" fill="#bb9578"/>
<polyline points="516.6,100.3 522.49,98.2 535.31,92 548.12,85.8 560.94,80 573.75,79.2 586.57,79.2 599.38,73.7 612.2,61.6 625.01,49.3 637.83,42.4 650.64,33.2 663.46,32.7" fill="none" stroke="#3b9ad8" stroke-width="1" stroke-linejoin="round"/>
<rect x="513.8" y="97.5" width="5.6" height="5.6" fill="#0b7bc8"/>
<rect x="519.69" y="95.4" width="5.6" height="5.6" fill="#0b7bc8"/>
<rect x="532.51" y="89.2" width="5.6" height="5.6" fill="#0b7bc8"/>
<rect x="545.32" y="83" width="5.6" height="5.6" fill="#0b7bc8"/>
<rect x="558.14" y="77.2" width="5.6" height="5.6" fill="#0b7bc8"/>
<rect x="570.95" y="76.4" width="5.6" height="5.6" fill="#0b7bc8"/>
<rect x="583.77" y="76.4" width="5.6" height="5.6" fill="#0b7bc8"/>
<rect x="596.58" y="70.9" width="5.6" height="5.6" fill="#0b7bc8"/>
<rect x="609.4" y="58.8" width="5.6" height="5.6" fill="#0b7bc8"/>
<rect x="622.21" y="46.5" width="5.6" height="5.6" fill="#0b7bc8"/>
<rect x="635.03" y="39.6" width="5.6" height="5.6" fill="#0b7bc8"/>
<rect x="647.84" y="30.4" width="5.6" height="5.6" fill="#0b7bc8"/>
<rect x="660.66" y="29.9" width="5.6" height="5.6" fill="#0b7bc8"/>
<text x="631.8" y="142.7" font-size="14" fill="#808000" stroke="#808000" stroke-width="0.25">LiSbTe<tspan font-size="8.96" dy="3.8">2</tspan></text>
<text x="638.3" y="109" font-size="14.2" text-anchor="start" fill="#111111" stroke="#111111" stroke-width="0.25">MnTe</text>
<text x="577.2" y="22.6" font-size="11.3" text-anchor="start" fill="#1a1a1a" stroke="#1a1a1a" stroke-width="0.25">LiMn<tspan font-size="7.91" dy="3">m</tspan><tspan dy="-3">SbTe</tspan><tspan font-size="7.91" dy="3">m+2</tspan></text>
<line x1="510.4" y1="17.5" x2="535.5" y2="17.5" stroke="#3b9ad8" stroke-width="1"/>
<rect x="520.15" y="14.7" width="5.6" height="5.6" fill="#0b7bc8"/>
<text x="539.4" y="21.6" font-size="11.4" text-anchor="start" fill="#1a1a1a" stroke="#1a1a1a" stroke-width="0.25">m = 10</text>
<line x1="510.4" y1="29.5" x2="535.5" y2="29.5" stroke="#3a993a" stroke-width="1"/>
<rect x="520.15" y="26.7" width="5.6" height="5.6" fill="#098009"/>
<text x="539.4" y="33.6" font-size="11.4" text-anchor="start" fill="#1a1a1a" stroke="#1a1a1a" stroke-width="0.25">m = 5</text>
<line x1="510.4" y1="43.5" x2="535.5" y2="43.5" stroke="#ffa850" stroke-width="1"/>
<circle cx="522.95" cy="43.5" r="3.15" fill="#ff8000"/>
<text x="539.4" y="47.6" font-size="11.4" text-anchor="start" fill="#1a1a1a" stroke="#1a1a1a" stroke-width="0.25">m = 3</text>
<line x1="510.4" y1="57.5" x2="535.5" y2="57.5" stroke="#d3b7a2" stroke-width="1"/>
<path d="M522.95 53.1L526.55 59.7L519.35 59.7Z" fill="#bb9578"/>
<text x="539.4" y="61.6" font-size="11.4" text-anchor="start" fill="#1a1a1a" stroke="#1a1a1a" stroke-width="0.25">m = 2</text>
<line x1="510.4" y1="71.5" x2="535.5" y2="71.5" stroke="#d97aa0" stroke-width="1"/>
<path d="M519.35 69.3L526.55 69.3L522.95 75.9Z" fill="#c2336b"/>
<text x="539.4" y="75.6" font-size="11.4" text-anchor="start" fill="#1a1a1a" stroke="#1a1a1a" stroke-width="0.25">m = 1</text>
<text x="468.6" y="18" font-size="25.5" text-anchor="start" fill="#111111" stroke="#111111" stroke-width="0.25">c</text>
<text transform="translate(486.2 82.8) rotate(-90)" x="0" y="0" font-size="16.1" text-anchor="middle" fill="#1a1a1a" stroke="#1a1a1a" stroke-width="0.25">PF (μWcm<tspan font-size="11" dy="-5.5">-1</tspan><tspan dy="5.5">K</tspan><tspan font-size="11" dy="-5.5">-2</tspan><tspan dy="5.5">)</tspan></text>
<text x="578.5" y="191.3" font-size="16.3" fill="#1a1a1a" font-style="italic" stroke="#1a1a1a" stroke-width="0.25">T</text><text x="591.1" y="191.3" font-size="16.3" fill="#1a1a1a" stroke="#1a1a1a" stroke-width="0.25">(K)</text>
<rect x="44.6" y="203.5" width="178.8" height="151" fill="none" stroke="#858585" stroke-width="1"/>
<line x1="57.4" y1="354.5" x2="57.4" y2="351.3" stroke="#858585" stroke-width="1"/>
<text x="57.4" y="368.8" font-size="14" text-anchor="middle" fill="#1a1a1a" stroke="#1a1a1a" stroke-width="0.25">300</text>
<line x1="95.75" y1="354.5" x2="95.75" y2="351.3" stroke="#858585" stroke-width="1"/>
<text x="95.75" y="368.8" font-size="14" text-anchor="middle" fill="#1a1a1a" stroke="#1a1a1a" stroke-width="0.25">450</text>
<line x1="134.11" y1="354.5" x2="134.11" y2="351.3" stroke="#858585" stroke-width="1"/>
<text x="134.11" y="368.8" font-size="14" text-anchor="middle" fill="#1a1a1a" stroke="#1a1a1a" stroke-width="0.25">600</text>
<line x1="172.47" y1="354.5" x2="172.47" y2="351.3" stroke="#858585" stroke-width="1"/>
<text x="172.47" y="368.8" font-size="14" text-anchor="middle" fill="#1a1a1a" stroke="#1a1a1a" stroke-width="0.25">750</text>
<line x1="210.82" y1="354.5" x2="210.82" y2="351.3" stroke="#858585" stroke-width="1"/>
<text x="210.82" y="368.8" font-size="14" text-anchor="middle" fill="#1a1a1a" stroke="#1a1a1a" stroke-width="0.25">900</text>
<line x1="76.58" y1="354.5" x2="76.58" y2="352.8" stroke="#858585" stroke-width="1"/>
<line x1="114.93" y1="354.5" x2="114.93" y2="352.8" stroke="#858585" stroke-width="1"/>
<line x1="153.29" y1="354.5" x2="153.29" y2="352.8" stroke="#858585" stroke-width="1"/>
<line x1="191.64" y1="354.5" x2="191.64" y2="352.8" stroke="#858585" stroke-width="1"/>
<line x1="44.6" y1="354.42" x2="47.8" y2="354.42" stroke="#858585" stroke-width="1"/>
<text x="41.2" y="358.42" font-size="14" text-anchor="end" fill="#1a1a1a" stroke="#1a1a1a" stroke-width="0.25">0.2</text>
<line x1="44.6" y1="332.86" x2="47.8" y2="332.86" stroke="#858585" stroke-width="1"/>
<text x="41.2" y="336.86" font-size="14" text-anchor="end" fill="#1a1a1a" stroke="#1a1a1a" stroke-width="0.25">0.4</text>
<line x1="44.6" y1="311.3" x2="47.8" y2="311.3" stroke="#858585" stroke-width="1"/>
<text x="41.2" y="315.3" font-size="14" text-anchor="end" fill="#1a1a1a" stroke="#1a1a1a" stroke-width="0.25">0.6</text>
<line x1="44.6" y1="289.74" x2="47.8" y2="289.74" stroke="#858585" stroke-width="1"/>
<text x="41.2" y="293.74" font-size="14" text-anchor="end" fill="#1a1a1a" stroke="#1a1a1a" stroke-width="0.25">0.8</text>
<line x1="44.6" y1="268.18" x2="47.8" y2="268.18" stroke="#858585" stroke-width="1"/>
<text x="41.2" y="272.18" font-size="14" text-anchor="end" fill="#1a1a1a" stroke="#1a1a1a" stroke-width="0.25">1.0</text>
<line x1="44.6" y1="246.62" x2="47.8" y2="246.62" stroke="#858585" stroke-width="1"/>
<text x="41.2" y="250.62" font-size="14" text-anchor="end" fill="#1a1a1a" stroke="#1a1a1a" stroke-width="0.25">1.2</text>
<line x1="44.6" y1="225.06" x2="47.8" y2="225.06" stroke="#858585" stroke-width="1"/>
<text x="41.2" y="229.06" font-size="14" text-anchor="end" fill="#1a1a1a" stroke="#1a1a1a" stroke-width="0.25">1.4</text>
<line x1="44.6" y1="203.5" x2="47.8" y2="203.5" stroke="#858585" stroke-width="1"/>
<text x="41.2" y="207.5" font-size="14" text-anchor="end" fill="#1a1a1a" stroke="#1a1a1a" stroke-width="0.25">1.6</text>
<line x1="44.6" y1="343.64" x2="46.3" y2="343.64" stroke="#858585" stroke-width="1"/>
<line x1="44.6" y1="322.08" x2="46.3" y2="322.08" stroke="#858585" stroke-width="1"/>
<line x1="44.6" y1="300.52" x2="46.3" y2="300.52" stroke="#858585" stroke-width="1"/>
<line x1="44.6" y1="278.96" x2="46.3" y2="278.96" stroke="#858585" stroke-width="1"/>
<line x1="44.6" y1="257.4" x2="46.3" y2="257.4" stroke="#858585" stroke-width="1"/>
<line x1="44.6" y1="235.84" x2="46.3" y2="235.84" stroke="#858585" stroke-width="1"/>
<line x1="44.6" y1="214.28" x2="46.3" y2="214.28" stroke="#858585" stroke-width="1"/>
<path d="M56.9 321.4 C59.75 322.03 67.98 323.93 74 325.2 C80.02 326.47 86.68 327.98 93 329 C99.32 330.02 105.58 330.62 111.9 331.3 C118.22 331.98 124.57 332.6 130.9 333.1 C137.23 333.6 144.2 334.27 149.9 334.3 C155.6 334.33 160.52 333.93 165.1 333.3 C169.68 332.67 175.35 330.97 177.4 330.5" fill="none" stroke="#808000" stroke-width="1" stroke-linecap="round"/>
<path d="M63.5 214.3 C64.68 216.17 68.38 221.92 70.6 225.5 C72.82 229.08 74.4 232.38 76.8 235.8 C79.2 239.22 82.27 242.75 85 246 C87.73 249.25 90.47 252.28 93.2 255.3 C95.93 258.32 98.33 261.38 101.4 264.1 C104.47 266.82 108.18 269.32 111.6 271.6 C115.02 273.88 118.83 275.75 121.9 277.8 C124.97 279.85 126.93 281.78 130 283.9 C133.07 286.02 136.53 288.72 140.3 290.5 C144.07 292.28 148.5 293.57 152.6 294.6 C156.7 295.63 160.8 296.18 164.9 296.7 C169 297.22 172.93 297.43 177.2 297.7 C181.47 297.97 188.28 298.2 190.5 298.3" fill="none" stroke="#111111" stroke-width="1" stroke-linecap="round"/>
<polyline points="57.4,269.8 63.28,269.8 76.07,273.7 88.85,278.4 101.64,283 114.42,287.3 127.21,291.4 139.99,294.5 152.78,296 165.56,296 178.35,296 191.13,295.6 203.92,294" fill="none" stroke="#3b9ad8" stroke-width="1" stroke-linejoin="round"/>
<rect x="54.6" y="267" width="5.6" height="5.6" fill="#0b7bc8"/>
<rect x="60.48" y="267" width="5.6" height="5.6" fill="#0b7bc8"/>
<rect x="73.27" y="270.9" width="5.6" height="5.6" fill="#0b7bc8"/>
<rect x="86.05" y="275.6" width="5.6" height="5.6" fill="#0b7bc8"/>
<rect x="98.84" y="280.2" width="5.6" height="5.6" fill="#0b7bc8"/>
<rect x="111.62" y="284.5" width="5.6" height="5.6" fill="#0b7bc8"/>
<rect x="124.41" y="288.6" width="5.6" height="5.6" fill="#0b7bc8"/>
<rect x="137.19" y="291.7" width="5.6" height="5.6" fill="#0b7bc8"/>
<rect x="149.98" y="293.2" width="5.6" height="5.6" fill="#0b7bc8"/>
<rect x="162.76" y="293.2" width="5.6" height="5.6" fill="#0b7bc8"/>
<rect x="175.55" y="293.2" width="5.6" height="5.6" fill="#0b7bc8"/>
<rect x="188.33" y="292.8" width="5.6" height="5.6" fill="#0b7bc8"/>
<rect x="201.12" y="291.2" width="5.6" height="5.6" fill="#0b7bc8"/>
<polyline points="57.4,285.6 63.28,287.3 76.07,292.2 88.85,296.9 101.64,300.4 114.42,304.1 127.21,308.2 139.99,310.9 152.78,312 165.56,312 178.35,310.4 191.13,307.9 203.92,304.2" fill="none" stroke="#3a993a" stroke-width="1" stroke-linejoin="round"/>
<rect x="54.6" y="282.8" width="5.6" height="5.6" fill="#098009"/>
<rect x="60.48" y="284.5" width="5.6" height="5.6" fill="#098009"/>
<rect x="73.27" y="289.4" width="5.6" height="5.6" fill="#098009"/>
<rect x="86.05" y="294.1" width="5.6" height="5.6" fill="#098009"/>
<rect x="98.84" y="297.6" width="5.6" height="5.6" fill="#098009"/>
<rect x="111.62" y="301.3" width="5.6" height="5.6" fill="#098009"/>
<rect x="124.41" y="305.4" width="5.6" height="5.6" fill="#098009"/>
<rect x="137.19" y="308.1" width="5.6" height="5.6" fill="#098009"/>
<rect x="149.98" y="309.2" width="5.6" height="5.6" fill="#098009"/>
<rect x="162.76" y="309.2" width="5.6" height="5.6" fill="#098009"/>
<rect x="175.55" y="307.6" width="5.6" height="5.6" fill="#098009"/>
<rect x="188.33" y="305.1" width="5.6" height="5.6" fill="#098009"/>
<rect x="201.12" y="301.4" width="5.6" height="5.6" fill="#098009"/>
<polyline points="57.4,290.8 63.28,292.2 76.07,296.5 88.85,300.4 101.64,303.1 114.42,306.1 127.21,309.6 139.99,313.3 152.78,314.1 165.56,314.1 178.35,314.1 191.13,312 203.92,309" fill="none" stroke="#d3b7a2" stroke-width="1" stroke-linejoin="round"/>
<circle cx="57.4" cy="290.8" r="3.15" fill="#bb9578"/>
<circle cx="63.28" cy="292.2" r="3.15" fill="#bb9578"/>
<circle cx="76.07" cy="296.5" r="3.15" fill="#bb9578"/>
<circle cx="88.85" cy="300.4" r="3.15" fill="#bb9578"/>
<circle cx="101.64" cy="303.1" r="3.15" fill="#bb9578"/>
<circle cx="114.42" cy="306.1" r="3.15" fill="#bb9578"/>
<circle cx="127.21" cy="309.6" r="3.15" fill="#bb9578"/>
<circle cx="139.99" cy="313.3" r="3.15" fill="#bb9578"/>
<circle cx="152.78" cy="314.1" r="3.15" fill="#bb9578"/>
<circle cx="165.56" cy="314.1" r="3.15" fill="#bb9578"/>
<circle cx="178.35" cy="314.1" r="3.15" fill="#bb9578"/>
<circle cx="191.13" cy="312" r="3.15" fill="#bb9578"/>
<circle cx="203.92" cy="309" r="3.15" fill="#bb9578"/>
<polyline points="57.4,298 63.28,299 76.07,302.5 88.85,305.8 101.64,308.7 114.42,310.3 127.21,313.4 139.99,317.1 152.78,317.8 165.56,318.3 178.35,317.8 191.13,316.6 203.92,313.1" fill="none" stroke="#ffa850" stroke-width="1" stroke-linejoin="round"/>
<path d="M57.4 293.6L61 300.2L53.8 300.2Z" fill="#ff8000"/>
<path d="M63.28 294.6L66.88 301.2L59.68 301.2Z" fill="#ff8000"/>
<path d="M76.07 298.1L79.67 304.7L72.47 304.7Z" fill="#ff8000"/>
<path d="M88.85 301.4L92.45 308L85.25 308Z" fill="#ff8000"/>
<path d="M101.64 304.3L105.24 310.9L98.04 310.9Z" fill="#ff8000"/>
<path d="M114.42 305.9L118.02 312.5L110.82 312.5Z" fill="#ff8000"/>
<path d="M127.21 309L130.81 315.6L123.61 315.6Z" fill="#ff8000"/>
<path d="M139.99 312.7L143.59 319.3L136.39 319.3Z" fill="#ff8000"/>
<path d="M152.78 313.4L156.38 320L149.18 320Z" fill="#ff8000"/>
<path d="M165.56 313.9L169.16 320.5L161.96 320.5Z" fill="#ff8000"/>
<path d="M178.35 313.4L181.95 320L174.75 320Z" fill="#ff8000"/>
<path d="M191.13 312.2L194.73 318.8L187.53 318.8Z" fill="#ff8000"/>
<path d="M203.92 308.7L207.52 315.3L200.32 315.3Z" fill="#ff8000"/>
<polyline points="57.4,312.7 63.28,313.5 76.07,317.2 88.85,320.3 101.64,321.7 114.42,323.4 127.21,325 139.99,326 152.78,325.6 165.56,325.6 178.35,324.1 191.13,322.1 203.92,319" fill="none" stroke="#d97aa0" stroke-width="1" stroke-linejoin="round"/>
<path d="M53.8 310.5L61 310.5L57.4 317.1Z" fill="#c2336b"/>
<path d="M59.68 311.3L66.88 311.3L63.28 317.9Z" fill="#c2336b"/>
<path d="M72.47 315L79.67 315L76.07 321.6Z" fill="#c2336b"/>
<path d="M85.25 318.1L92.45 318.1L88.85 324.7Z" fill="#c2336b"/>
<path d="M98.04 319.5L105.24 319.5L101.64 326.1Z" fill="#c2336b"/>
<path d="M110.82 321.2L118.02 321.2L114.42 327.8Z" fill="#c2336b"/>
<path d="M123.61 322.8L130.81 322.8L127.21 329.4Z" fill="#c2336b"/>
<path d="M136.39 323.8L143.59 323.8L139.99 330.4Z" fill="#c2336b"/>
<path d="M149.18 323.4L156.38 323.4L152.78 330Z" fill="#c2336b"/>
<path d="M161.96 323.4L169.16 323.4L165.56 330Z" fill="#c2336b"/>
<path d="M174.75 321.9L181.95 321.9L178.35 328.5Z" fill="#c2336b"/>
<path d="M187.53 319.9L194.73 319.9L191.13 326.5Z" fill="#c2336b"/>
<path d="M200.32 316.8L207.52 316.8L203.92 323.4Z" fill="#c2336b"/>
<text x="167.3" y="344.8" font-size="14" fill="#808000" stroke="#808000" stroke-width="0.25">LiSbTe<tspan font-size="8.96" dy="3.8">2</tspan></text>
<text x="96.3" y="258.7" font-size="14.2" text-anchor="start" fill="#111111" stroke="#111111" stroke-width="0.25">MnTe</text>
<text x="80.3" y="219" font-size="11.3" text-anchor="start" fill="#1a1a1a" stroke="#1a1a1a" stroke-width="0.25">LiMn<tspan font-size="7.91" dy="3">m</tspan><tspan dy="-3">SbTe</tspan><tspan font-size="7.91" dy="3">m+2</tspan></text>
<line x1="159.5" y1="213.5" x2="184.1" y2="213.5" stroke="#3b9ad8" stroke-width="1"/>
<rect x="169" y="210.7" width="5.6" height="5.6" fill="#0b7bc8"/>
<text x="188.3" y="217.6" font-size="11.4" text-anchor="start" fill="#1a1a1a" stroke="#1a1a1a" stroke-width="0.25">m = 10</text>
<line x1="159.5" y1="227.5" x2="184.1" y2="227.5" stroke="#3a993a" stroke-width="1"/>
<rect x="169" y="224.7" width="5.6" height="5.6" fill="#098009"/>
<text x="188.3" y="231.6" font-size="11.4" text-anchor="start" fill="#1a1a1a" stroke="#1a1a1a" stroke-width="0.25">m = 5</text>
<line x1="159.5" y1="241.5" x2="184.1" y2="241.5" stroke="#d3b7a2" stroke-width="1"/>
<circle cx="171.8" cy="241.5" r="3.15" fill="#bb9578"/>
<text x="188.3" y="245.6" font-size="11.4" text-anchor="start" fill="#1a1a1a" stroke="#1a1a1a" stroke-width="0.25">m = 3</text>
<line x1="159.5" y1="255.5" x2="184.1" y2="255.5" stroke="#ffa850" stroke-width="1"/>
<path d="M171.8 251.1L175.4 257.7L168.2 257.7Z" fill="#ff8000"/>
<text x="188.3" y="259.6" font-size="11.4" text-anchor="start" fill="#1a1a1a" stroke="#1a1a1a" stroke-width="0.25">m = 2</text>
<line x1="159.5" y1="268.5" x2="184.1" y2="268.5" stroke="#d97aa0" stroke-width="1"/>
<path d="M168.2 266.3L175.4 266.3L171.8 272.9Z" fill="#c2336b"/>
<text x="188.3" y="272.6" font-size="11.4" text-anchor="start" fill="#1a1a1a" stroke="#1a1a1a" stroke-width="0.25">m = 1</text>
<text x="5.7" y="210.8" font-size="25.5" text-anchor="start" fill="#111111" stroke="#111111" stroke-width="0.25">d</text>
<text transform="translate(17 277.5) rotate(-90)" x="0" y="0" font-size="16.25" text-anchor="middle" fill="#1a1a1a" stroke="#1a1a1a" stroke-width="0.25"><tspan font-style="italic">κ</tspan> (Wm<tspan font-size="11" dy="-5.5">-1</tspan><tspan dy="5.5">K</tspan><tspan font-size="11" dy="-5.5">-1</tspan><tspan dy="5.5">)</tspan></text>
<text x="117.6" y="385.1" font-size="16.3" fill="#1a1a1a" font-style="italic" stroke="#1a1a1a" stroke-width="0.25">T</text><text x="130.2" y="385.1" font-size="16.3" fill="#1a1a1a" stroke="#1a1a1a" stroke-width="0.25">(K)</text>
<rect x="280.8" y="204.2" width="179.2" height="151.3" fill="none" stroke="#858585" stroke-width="1"/>
<line x1="293.5" y1="355.5" x2="293.5" y2="352.3" stroke="#858585" stroke-width="1"/>
<text x="293.5" y="370.1" font-size="14" text-anchor="middle" fill="#1a1a1a" stroke="#1a1a1a" stroke-width="0.25">300</text>
<line x1="332" y1="355.5" x2="332" y2="352.3" stroke="#858585" stroke-width="1"/>
<text x="332" y="370.1" font-size="14" text-anchor="middle" fill="#1a1a1a" stroke="#1a1a1a" stroke-width="0.25">450</text>
<line x1="370.51" y1="355.5" x2="370.51" y2="352.3" stroke="#858585" stroke-width="1"/>
<text x="370.51" y="370.1" font-size="14" text-anchor="middle" fill="#1a1a1a" stroke="#1a1a1a" stroke-width="0.25">600</text>
<line x1="409.01" y1="355.5" x2="409.01" y2="352.3" stroke="#858585" stroke-width="1"/>
<text x="409.01" y="370.1" font-size="14" text-anchor="middle" fill="#1a1a1a" stroke="#1a1a1a" stroke-width="0.25">750</text>
<line x1="447.52" y1="355.5" x2="447.52" y2="352.3" stroke="#858585" stroke-width="1"/>
<text x="447.52" y="370.1" font-size="14" text-anchor="middle" fill="#1a1a1a" stroke="#1a1a1a" stroke-width="0.25">900</text>
<line x1="312.75" y1="355.5" x2="312.75" y2="353.8" stroke="#858585" stroke-width="1"/>
<line x1="351.26" y1="355.5" x2="351.26" y2="353.8" stroke="#858585" stroke-width="1"/>
<line x1="389.76" y1="355.5" x2="389.76" y2="353.8" stroke="#858585" stroke-width="1"/>
<line x1="428.27" y1="355.5" x2="428.27" y2="353.8" stroke="#858585" stroke-width="1"/>
<line x1="280.8" y1="355.3" x2="284" y2="355.3" stroke="#858585" stroke-width="1"/>
<text x="277.4" y="359.3" font-size="14" text-anchor="end" fill="#1a1a1a" stroke="#1a1a1a" stroke-width="0.25">0.0</text>
<line x1="280.8" y1="317.52" x2="284" y2="317.52" stroke="#858585" stroke-width="1"/>
<text x="277.4" y="321.52" font-size="14" text-anchor="end" fill="#1a1a1a" stroke="#1a1a1a" stroke-width="0.25">0.4</text>
<line x1="280.8" y1="279.74" x2="284" y2="279.74" stroke="#858585" stroke-width="1"/>
<text x="277.4" y="283.74" font-size="14" text-anchor="end" fill="#1a1a1a" stroke="#1a1a1a" stroke-width="0.25">0.8</text>
<line x1="280.8" y1="241.96" x2="284" y2="241.96" stroke="#858585" stroke-width="1"/>
<text x="277.4" y="245.96" font-size="14" text-anchor="end" fill="#1a1a1a" stroke="#1a1a1a" stroke-width="0.25">1.2</text>
<line x1="280.8" y1="204.18" x2="284" y2="204.18" stroke="#858585" stroke-width="1"/>
<text x="277.4" y="208.18" font-size="14" text-anchor="end" fill="#1a1a1a" stroke="#1a1a1a" stroke-width="0.25">1.6</text>
<line x1="280.8" y1="336.41" x2="282.5" y2="336.41" stroke="#858585" stroke-width="1"/>
<line x1="280.8" y1="298.63" x2="282.5" y2="298.63" stroke="#858585" stroke-width="1"/>
<line x1="280.8" y1="260.85" x2="282.5" y2="260.85" stroke="#858585" stroke-width="1"/>
<line x1="280.8" y1="223.07" x2="282.5" y2="223.07" stroke="#858585" stroke-width="1"/>
<path d="M293.6 307.2 C297.3 307.7 308.68 309.12 315.8 310.2 C322.92 311.28 329.47 312.57 336.3 313.7 C343.13 314.83 351.52 316.18 356.8 317 C362.08 317.82 364.33 318.03 368 318.6 C371.67 319.17 374.3 319.87 378.8 320.4 C383.3 320.93 390.38 321.8 395 321.8 C399.62 321.8 403.23 321.02 406.5 320.4 C409.77 319.78 413.25 318.48 414.6 318.1" fill="none" stroke="#808000" stroke-width="1" stroke-linecap="round"/>
<path d="M299.4 213.5 C300.47 215.17 303.7 220.25 305.8 223.5 C307.9 226.75 308.93 229.18 312 233 C315.07 236.82 320.13 242.55 324.2 246.4 C328.27 250.25 332.33 253.05 336.4 256.1 C340.47 259.15 344.13 261.65 348.6 264.7 C353.07 267.75 358.33 271.57 363.2 274.4 C368.07 277.23 372.93 279.67 377.8 281.7 C382.67 283.73 387.13 285.1 392.4 286.6 C397.67 288.1 403.52 289.48 409.4 290.7 C415.28 291.92 424.65 293.37 427.7 293.9" fill="none" stroke="#111111" stroke-width="1" stroke-linecap="round"/>
<polyline points="293.5,273.9 299.4,274.4 312.24,278 325.07,282.6 337.91,287.1 350.74,290.8 363.58,293.8 376.41,296.6 389.25,300.4 402.08,303.3 414.92,306.1 427.75,308.9 440.59,311.2" fill="none" stroke="#3b9ad8" stroke-width="1" stroke-linejoin="round"/>
<rect x="290.7" y="271.1" width="5.6" height="5.6" fill="#0b7bc8"/>
<rect x="296.6" y="271.6" width="5.6" height="5.6" fill="#0b7bc8"/>
<rect x="309.44" y="275.2" width="5.6" height="5.6" fill="#0b7bc8"/>
<rect x="322.27" y="279.8" width="5.6" height="5.6" fill="#0b7bc8"/>
<rect x="335.11" y="284.3" width="5.6" height="5.6" fill="#0b7bc8"/>
<rect x="347.94" y="288" width="5.6" height="5.6" fill="#0b7bc8"/>
<rect x="360.78" y="291" width="5.6" height="5.6" fill="#0b7bc8"/>
<rect x="373.61" y="293.8" width="5.6" height="5.6" fill="#0b7bc8"/>
<rect x="386.45" y="297.6" width="5.6" height="5.6" fill="#0b7bc8"/>
<rect x="399.28" y="300.5" width="5.6" height="5.6" fill="#0b7bc8"/>
<rect x="412.12" y="303.3" width="5.6" height="5.6" fill="#0b7bc8"/>
<rect x="424.95" y="306.1" width="5.6" height="5.6" fill="#0b7bc8"/>
<rect x="437.79" y="308.4" width="5.6" height="5.6" fill="#0b7bc8"/>
<polyline points="293.5,283 299.4,284.8 312.24,289.5 325.07,294 337.91,297.3 350.74,300 363.58,302.2 376.41,304.4 389.25,306.6 402.08,309.5 414.92,312.5 427.75,314.8 440.59,316.3" fill="none" stroke="#3a993a" stroke-width="1" stroke-linejoin="round"/>
<rect x="290.7" y="280.2" width="5.6" height="5.6" fill="#098009"/>
<rect x="296.6" y="282" width="5.6" height="5.6" fill="#098009"/>
<rect x="309.44" y="286.7" width="5.6" height="5.6" fill="#098009"/>
<rect x="322.27" y="291.2" width="5.6" height="5.6" fill="#098009"/>
<rect x="335.11" y="294.5" width="5.6" height="5.6" fill="#098009"/>
<rect x="347.94" y="297.2" width="5.6" height="5.6" fill="#098009"/>
<rect x="360.78" y="299.4" width="5.6" height="5.6" fill="#098009"/>
<rect x="373.61" y="301.6" width="5.6" height="5.6" fill="#098009"/>
<rect x="386.45" y="303.8" width="5.6" height="5.6" fill="#098009"/>
<rect x="399.28" y="306.7" width="5.6" height="5.6" fill="#098009"/>
<rect x="412.12" y="309.7" width="5.6" height="5.6" fill="#098009"/>
<rect x="424.95" y="312" width="5.6" height="5.6" fill="#098009"/>
<rect x="437.79" y="313.5" width="5.6" height="5.6" fill="#098009"/>
<polyline points="293.5,286.9 299.4,288.7 312.24,292.6 325.07,296.7 337.91,299.6 350.74,302.3 363.58,304.5 376.41,307.2 389.25,309.2 402.08,311.5 414.92,313.4 427.75,316 440.59,318.4" fill="none" stroke="#d3b7a2" stroke-width="1" stroke-linejoin="round"/>
<circle cx="293.5" cy="286.9" r="3.15" fill="#bb9578"/>
<circle cx="299.4" cy="288.7" r="3.15" fill="#bb9578"/>
<circle cx="312.24" cy="292.6" r="3.15" fill="#bb9578"/>
<circle cx="325.07" cy="296.7" r="3.15" fill="#bb9578"/>
<circle cx="337.91" cy="299.6" r="3.15" fill="#bb9578"/>
<circle cx="350.74" cy="302.3" r="3.15" fill="#bb9578"/>
<circle cx="363.58" cy="304.5" r="3.15" fill="#bb9578"/>
<circle cx="376.41" cy="307.2" r="3.15" fill="#bb9578"/>
<circle cx="389.25" cy="309.2" r="3.15" fill="#bb9578"/>
<circle cx="402.08" cy="311.5" r="3.15" fill="#bb9578"/>
<circle cx="414.92" cy="313.4" r="3.15" fill="#bb9578"/>
<circle cx="427.75" cy="316" r="3.15" fill="#bb9578"/>
<circle cx="440.59" cy="318.4" r="3.15" fill="#bb9578"/>
<polyline points="293.5,292.9 299.4,293.9 312.24,296.8 325.07,300.4 337.91,303.1 350.74,304.6 363.58,306.3 376.41,308.6 389.25,310.6 402.08,313.2 414.92,314.7 427.75,317.1 440.59,318.4" fill="none" stroke="#ffa850" stroke-width="1" stroke-linejoin="round"/>
<path d="M293.5 288.5L297.1 295.1L289.9 295.1Z" fill="#ff8000"/>
<path d="M299.4 289.5L303 296.1L295.8 296.1Z" fill="#ff8000"/>
<path d="M312.24 292.4L315.84 299L308.64 299Z" fill="#ff8000"/>
<path d="M325.07 296L328.67 302.6L321.47 302.6Z" fill="#ff8000"/>
<path d="M337.91 298.7L341.51 305.3L334.31 305.3Z" fill="#ff8000"/>
<path d="M350.74 300.2L354.34 306.8L347.14 306.8Z" fill="#ff8000"/>
<path d="M363.58 301.9L367.18 308.5L359.98 308.5Z" fill="#ff8000"/>
<path d="M376.41 304.2L380.01 310.8L372.81 310.8Z" fill="#ff8000"/>
<path d="M389.25 306.2L392.85 312.8L385.65 312.8Z" fill="#ff8000"/>
<path d="M402.08 308.8L405.68 315.4L398.48 315.4Z" fill="#ff8000"/>
<path d="M414.92 310.3L418.52 316.9L411.32 316.9Z" fill="#ff8000"/>
<path d="M427.75 312.7L431.35 319.3L424.15 319.3Z" fill="#ff8000"/>
<path d="M440.59 314L444.19 320.6L436.99 320.6Z" fill="#ff8000"/>
<polyline points="293.5,301.3 299.4,302.3 312.24,305.2 325.07,307.9 337.91,309.7 350.74,311.1 363.58,312.6 376.41,314 389.25,314.5 402.08,315.4 414.92,317.2 427.75,318.4 440.59,318.9" fill="none" stroke="#d97aa0" stroke-width="1" stroke-linejoin="round"/>
<path d="M289.9 299.1L297.1 299.1L293.5 305.7Z" fill="#c2336b"/>
<path d="M295.8 300.1L303 300.1L299.4 306.7Z" fill="#c2336b"/>
<path d="M308.64 303L315.84 303L312.24 309.6Z" fill="#c2336b"/>
<path d="M321.47 305.7L328.67 305.7L325.07 312.3Z" fill="#c2336b"/>
<path d="M334.31 307.5L341.51 307.5L337.91 314.1Z" fill="#c2336b"/>
<path d="M347.14 308.9L354.34 308.9L350.74 315.5Z" fill="#c2336b"/>
<path d="M359.98 310.4L367.18 310.4L363.58 317Z" fill="#c2336b"/>
<path d="M372.81 311.8L380.01 311.8L376.41 318.4Z" fill="#c2336b"/>
<path d="M385.65 312.3L392.85 312.3L389.25 318.9Z" fill="#c2336b"/>
<path d="M398.48 313.2L405.68 313.2L402.08 319.8Z" fill="#c2336b"/>
<path d="M411.32 315L418.52 315L414.92 321.6Z" fill="#c2336b"/>
<path d="M424.15 316.2L431.35 316.2L427.75 322.8Z" fill="#c2336b"/>
<path d="M436.99 316.7L444.19 316.7L440.59 323.3Z" fill="#c2336b"/>
<text x="368.6" y="334.9" font-size="14" fill="#808000" stroke="#808000" stroke-width="0.25">LiSbTe<tspan font-size="8.96" dy="3.8">2</tspan></text>
<text x="341.9" y="259.1" font-size="14.2" text-anchor="start" fill="#111111" stroke="#111111" stroke-width="0.25">MnTe</text>
<text x="314.8" y="219.4" font-size="11.3" text-anchor="start" fill="#1a1a1a" stroke="#1a1a1a" stroke-width="0.25">LiMn<tspan font-size="7.91" dy="3">m</tspan><tspan dy="-3">SbTe</tspan><tspan font-size="7.91" dy="3">m+2</tspan></text>
<line x1="396.1" y1="214.5" x2="420.9" y2="214.5" stroke="#3b9ad8" stroke-width="1"/>
<rect x="405.7" y="211.7" width="5.6" height="5.6" fill="#0b7bc8"/>
<text x="424.4" y="218.6" font-size="11.4" text-anchor="start" fill="#1a1a1a" stroke="#1a1a1a" stroke-width="0.25">m = 10</text>
<line x1="396.1" y1="227.5" x2="420.9" y2="227.5" stroke="#3a993a" stroke-width="1"/>
<rect x="405.7" y="224.7" width="5.6" height="5.6" fill="#098009"/>
<text x="424.4" y="231.6" font-size="11.4" text-anchor="start" fill="#1a1a1a" stroke="#1a1a1a" stroke-width="0.25">m = 5</text>
<line x1="396.1" y1="241.5" x2="420.9" y2="241.5" stroke="#d3b7a2" stroke-width="1"/>
<circle cx="408.5" cy="241.5" r="3.15" fill="#bb9578"/>
<text x="424.4" y="245.6" font-size="11.4" text-anchor="start" fill="#1a1a1a" stroke="#1a1a1a" stroke-width="0.25">m = 3</text>
<line x1="396.1" y1="254.5" x2="420.9" y2="254.5" stroke="#ffa850" stroke-width="1"/>
<path d="M408.5 250.1L412.1 256.7L404.9 256.7Z" fill="#ff8000"/>
<text x="424.4" y="258.6" font-size="11.4" text-anchor="start" fill="#1a1a1a" stroke="#1a1a1a" stroke-width="0.25">m = 2</text>
<line x1="396.1" y1="268.5" x2="420.9" y2="268.5" stroke="#d97aa0" stroke-width="1"/>
<path d="M404.9 266.3L412.1 266.3L408.5 272.9Z" fill="#c2336b"/>
<text x="424.4" y="272.6" font-size="11.4" text-anchor="start" fill="#1a1a1a" stroke="#1a1a1a" stroke-width="0.25">m = 1</text>
<text x="237.8" y="209.8" font-size="25.5" text-anchor="start" fill="#111111" stroke="#111111" stroke-width="0.25">e</text>
<text transform="translate(253.5 276.6) rotate(-90)" x="0" y="0" font-size="16.9" text-anchor="middle" fill="#1a1a1a" stroke="#1a1a1a" stroke-width="0.25"><tspan font-style="italic">κ</tspan><tspan font-size="10" dy="4">L</tspan><tspan dy="-4"> (Wm</tspan><tspan font-size="11" dy="-5.5">-1</tspan><tspan dy="5.5">K</tspan><tspan font-size="11" dy="-5.5">-1</tspan><tspan dy="5.5">)</tspan></text>
<text x="353.5" y="386.1" font-size="16.3" fill="#1a1a1a" font-style="italic" stroke="#1a1a1a" stroke-width="0.25">T</text><text x="366.1" y="386.1" font-size="16.3" fill="#1a1a1a" stroke="#1a1a1a" stroke-width="0.25">(K)</text>
<rect x="505" y="203.1" width="179.3" height="151.4" fill="none" stroke="#858585" stroke-width="1"/>
<line x1="517.4" y1="354.5" x2="517.4" y2="351.3" stroke="#858585" stroke-width="1"/>
<text x="517.4" y="369.7" font-size="14" text-anchor="middle" fill="#1a1a1a" stroke="#1a1a1a" stroke-width="0.25">300</text>
<line x1="555.92" y1="354.5" x2="555.92" y2="351.3" stroke="#858585" stroke-width="1"/>
<text x="555.92" y="369.7" font-size="14" text-anchor="middle" fill="#1a1a1a" stroke="#1a1a1a" stroke-width="0.25">450</text>
<line x1="594.44" y1="354.5" x2="594.44" y2="351.3" stroke="#858585" stroke-width="1"/>
<text x="594.44" y="369.7" font-size="14" text-anchor="middle" fill="#1a1a1a" stroke="#1a1a1a" stroke-width="0.25">600</text>
<line x1="632.96" y1="354.5" x2="632.96" y2="351.3" stroke="#858585" stroke-width="1"/>
<text x="632.96" y="369.7" font-size="14" text-anchor="middle" fill="#1a1a1a" stroke="#1a1a1a" stroke-width="0.25">750</text>
<line x1="671.48" y1="354.5" x2="671.48" y2="351.3" stroke="#858585" stroke-width="1"/>
<text x="671.48" y="369.7" font-size="14" text-anchor="middle" fill="#1a1a1a" stroke="#1a1a1a" stroke-width="0.25">900</text>
<line x1="536.66" y1="354.5" x2="536.66" y2="352.8" stroke="#858585" stroke-width="1"/>
<line x1="575.18" y1="354.5" x2="575.18" y2="352.8" stroke="#858585" stroke-width="1"/>
<line x1="613.7" y1="354.5" x2="613.7" y2="352.8" stroke="#858585" stroke-width="1"/>
<line x1="652.22" y1="354.5" x2="652.22" y2="352.8" stroke="#858585" stroke-width="1"/>
<line x1="505" y1="345.2" x2="508.2" y2="345.2" stroke="#858585" stroke-width="1"/>
<text x="501.6" y="349.2" font-size="14" text-anchor="end" fill="#1a1a1a" stroke="#1a1a1a" stroke-width="0.25">0.0</text>
<line x1="505" y1="316.7" x2="508.2" y2="316.7" stroke="#858585" stroke-width="1"/>
<text x="501.6" y="320.7" font-size="14" text-anchor="end" fill="#1a1a1a" stroke="#1a1a1a" stroke-width="0.25">0.3</text>
<line x1="505" y1="288.2" x2="508.2" y2="288.2" stroke="#858585" stroke-width="1"/>
<text x="501.6" y="292.2" font-size="14" text-anchor="end" fill="#1a1a1a" stroke="#1a1a1a" stroke-width="0.25">0.6</text>
<line x1="505" y1="259.7" x2="508.2" y2="259.7" stroke="#858585" stroke-width="1"/>
<text x="501.6" y="263.7" font-size="14" text-anchor="end" fill="#1a1a1a" stroke="#1a1a1a" stroke-width="0.25">0.9</text>
<line x1="505" y1="231.2" x2="508.2" y2="231.2" stroke="#858585" stroke-width="1"/>
<text x="501.6" y="235.2" font-size="14" text-anchor="end" fill="#1a1a1a" stroke="#1a1a1a" stroke-width="0.25">1.2</text>
<line x1="505" y1="202.7" x2="508.2" y2="202.7" stroke="#858585" stroke-width="1"/>
<text x="501.6" y="206.7" font-size="14" text-anchor="end" fill="#1a1a1a" stroke="#1a1a1a" stroke-width="0.25">1.5</text>
<line x1="505" y1="330.95" x2="506.7" y2="330.95" stroke="#858585" stroke-width="1"/>
<line x1="505" y1="302.45" x2="506.7" y2="302.45" stroke="#858585" stroke-width="1"/>
<line x1="505" y1="273.95" x2="506.7" y2="273.95" stroke="#858585" stroke-width="1"/>
<line x1="505" y1="245.45" x2="506.7" y2="245.45" stroke="#858585" stroke-width="1"/>
<line x1="505" y1="216.95" x2="506.7" y2="216.95" stroke="#858585" stroke-width="1"/>
<path d="M517.7 344.6 C521.88 344.17 534.97 343.02 542.8 342 C550.63 340.98 558.5 339.67 564.7 338.5 C570.9 337.33 576.07 336.13 580 335 C583.93 333.87 585.52 332.82 588.3 331.7 C591.08 330.58 593.92 329.47 596.7 328.3 C599.48 327.13 602.23 326.08 605 324.7 C607.77 323.32 610.52 321.75 613.3 320 C616.08 318.25 618.92 316.15 621.7 314.2 C624.48 312.25 627.78 309.7 630 308.3 C632.22 306.9 633.47 306.35 635 305.8 C636.53 305.25 638.5 305.13 639.2 305" fill="none" stroke="#808000" stroke-width="1" stroke-linecap="round"/>
<path d="M517.7 344.6 C521.88 344.53 534.97 344.57 542.8 344.2 C550.63 343.83 558.5 343.13 564.7 342.4 C570.9 341.67 576.07 340.62 580 339.8 C583.93 338.98 585.52 338.43 588.3 337.5 C591.08 336.57 593.92 335.45 596.7 334.2 C599.48 332.95 602.23 331.67 605 330 C607.77 328.33 610.52 326.42 613.3 324.2 C616.08 321.98 618.92 319.35 621.7 316.7 C624.48 314.05 627.23 311.22 630 308.3 C632.77 305.38 635.52 302.3 638.3 299.2 C641.08 296.1 644.47 292.18 646.7 289.7 C648.93 287.22 650.87 285.2 651.7 284.3" fill="none" stroke="#111111" stroke-width="1" stroke-linecap="round"/>
<polyline points="517.4,333 523.31,332 536.15,327.7 548.99,322.9 561.83,316.8 574.67,312 587.51,306.9 600.35,298.8 613.19,287.6 626.03,275.9 638.87,267.1 651.71,256.2 664.55,252.3" fill="none" stroke="#3b9ad8" stroke-width="1" stroke-linejoin="round"/>
<rect x="514.6" y="330.2" width="5.6" height="5.6" fill="#0b7bc8"/>
<rect x="520.51" y="329.2" width="5.6" height="5.6" fill="#0b7bc8"/>
<rect x="533.35" y="324.9" width="5.6" height="5.6" fill="#0b7bc8"/>
<rect x="546.19" y="320.1" width="5.6" height="5.6" fill="#0b7bc8"/>
<rect x="559.03" y="314" width="5.6" height="5.6" fill="#0b7bc8"/>
<rect x="571.87" y="309.2" width="5.6" height="5.6" fill="#0b7bc8"/>
<rect x="584.71" y="304.1" width="5.6" height="5.6" fill="#0b7bc8"/>
<rect x="597.55" y="296" width="5.6" height="5.6" fill="#0b7bc8"/>
<rect x="610.39" y="284.8" width="5.6" height="5.6" fill="#0b7bc8"/>
<rect x="623.23" y="273.1" width="5.6" height="5.6" fill="#0b7bc8"/>
<rect x="636.07" y="264.3" width="5.6" height="5.6" fill="#0b7bc8"/>
<rect x="648.91" y="253.4" width="5.6" height="5.6" fill="#0b7bc8"/>
<rect x="661.75" y="249.5" width="5.6" height="5.6" fill="#0b7bc8"/>
<polyline points="517.4,330.5 523.31,329.5 536.15,325.2 548.99,319.2 561.83,313.2 574.67,308.5 587.51,303.5 600.35,297.5 613.19,286 626.03,273 638.87,260.3 651.71,245.5 664.55,240.4" fill="none" stroke="#3a993a" stroke-width="1" stroke-linejoin="round"/>
<rect x="514.6" y="327.7" width="5.6" height="5.6" fill="#098009"/>
<rect x="520.51" y="326.7" width="5.6" height="5.6" fill="#098009"/>
<rect x="533.35" y="322.4" width="5.6" height="5.6" fill="#098009"/>
<rect x="546.19" y="316.4" width="5.6" height="5.6" fill="#098009"/>
<rect x="559.03" y="310.4" width="5.6" height="5.6" fill="#098009"/>
<rect x="571.87" y="305.7" width="5.6" height="5.6" fill="#098009"/>
<rect x="584.71" y="300.7" width="5.6" height="5.6" fill="#098009"/>
<rect x="597.55" y="294.7" width="5.6" height="5.6" fill="#098009"/>
<rect x="610.39" y="283.2" width="5.6" height="5.6" fill="#098009"/>
<rect x="623.23" y="270.2" width="5.6" height="5.6" fill="#098009"/>
<rect x="636.07" y="257.5" width="5.6" height="5.6" fill="#098009"/>
<rect x="648.91" y="242.7" width="5.6" height="5.6" fill="#098009"/>
<rect x="661.75" y="237.6" width="5.6" height="5.6" fill="#098009"/>
<polyline points="517.4,329.8 523.31,328.6 536.15,324 548.99,317.5 561.83,311.5 574.67,306.5 587.51,302 600.35,296.5 613.19,285 626.03,271.5 638.87,257.5 651.71,243.1 664.55,238.3" fill="none" stroke="#d3b7a2" stroke-width="1" stroke-linejoin="round"/>
<circle cx="517.4" cy="329.8" r="3.15" fill="#bb9578"/>
<circle cx="523.31" cy="328.6" r="3.15" fill="#bb9578"/>
<circle cx="536.15" cy="324" r="3.15" fill="#bb9578"/>
<circle cx="548.99" cy="317.5" r="3.15" fill="#bb9578"/>
<circle cx="561.83" cy="311.5" r="3.15" fill="#bb9578"/>
<circle cx="574.67" cy="306.5" r="3.15" fill="#bb9578"/>
<circle cx="587.51" cy="302" r="3.15" fill="#bb9578"/>
<circle cx="600.35" cy="296.5" r="3.15" fill="#bb9578"/>
<circle cx="613.19" cy="285" r="3.15" fill="#bb9578"/>
<circle cx="626.03" cy="271.5" r="3.15" fill="#bb9578"/>
<circle cx="638.87" cy="257.5" r="3.15" fill="#bb9578"/>
<circle cx="651.71" cy="243.1" r="3.15" fill="#bb9578"/>
<circle cx="664.55" cy="238.3" r="3.15" fill="#bb9578"/>
<polyline points="517.4,330.3 523.31,328.9 536.15,323 548.99,316.2 561.83,310 574.67,303.6 587.51,300.6 600.35,296.1 613.19,285.1 626.03,269.6 638.87,254.8 651.71,242.5 664.55,232.7" fill="none" stroke="#ffa850" stroke-width="1" stroke-linejoin="round"/>
<path d="M517.4 325.9L521 332.5L513.8 332.5Z" fill="#ff8000"/>
<path d="M523.31 324.5L526.91 331.1L519.71 331.1Z" fill="#ff8000"/>
<path d="M536.15 318.6L539.75 325.2L532.55 325.2Z" fill="#ff8000"/>
<path d="M548.99 311.8L552.59 318.4L545.39 318.4Z" fill="#ff8000"/>
<path d="M561.83 305.6L565.43 312.2L558.23 312.2Z" fill="#ff8000"/>
<path d="M574.67 299.2L578.27 305.8L571.07 305.8Z" fill="#ff8000"/>
<path d="M587.51 296.2L591.11 302.8L583.91 302.8Z" fill="#ff8000"/>
<path d="M600.35 291.7L603.95 298.3L596.75 298.3Z" fill="#ff8000"/>
<path d="M613.19 280.7L616.79 287.3L609.59 287.3Z" fill="#ff8000"/>
<path d="M626.03 265.2L629.63 271.8L622.43 271.8Z" fill="#ff8000"/>
<path d="M638.87 250.4L642.47 257L635.27 257Z" fill="#ff8000"/>
<path d="M651.71 238.1L655.31 244.7L648.11 244.7Z" fill="#ff8000"/>
<path d="M664.55 228.3L668.15 234.9L660.95 234.9Z" fill="#ff8000"/>
<polyline points="517.4,328.6 523.31,327.2 536.15,321.8 548.99,315.6 561.83,310.2 574.67,304.7 587.51,300.6 600.35,295.6 613.19,284.3 626.03,271 638.87,255.6 651.71,242.9 664.55,232.6" fill="none" stroke="#d97aa0" stroke-width="1" stroke-linejoin="round"/>
<path d="M513.8 326.4L521 326.4L517.4 333Z" fill="#c2336b"/>
<path d="M519.71 325L526.91 325L523.31 331.6Z" fill="#c2336b"/>
<path d="M532.55 319.6L539.75 319.6L536.15 326.2Z" fill="#c2336b"/>
<path d="M545.39 313.4L552.59 313.4L548.99 320Z" fill="#c2336b"/>
<path d="M558.23 308L565.43 308L561.83 314.6Z" fill="#c2336b"/>
<path d="M571.07 302.5L578.27 302.5L574.67 309.1Z" fill="#c2336b"/>
<path d="M583.91 298.4L591.11 298.4L587.51 305Z" fill="#c2336b"/>
<path d="M596.75 293.4L603.95 293.4L600.35 300Z" fill="#c2336b"/>
<path d="M609.59 282.1L616.79 282.1L613.19 288.7Z" fill="#c2336b"/>
<path d="M622.43 268.8L629.63 268.8L626.03 275.4Z" fill="#c2336b"/>
<path d="M635.27 253.4L642.47 253.4L638.87 260Z" fill="#c2336b"/>
<path d="M648.11 240.7L655.31 240.7L651.71 247.3Z" fill="#c2336b"/>
<path d="M660.95 230.4L668.15 230.4L664.55 237Z" fill="#c2336b"/>
<text x="635.2" y="319.3" font-size="14" fill="#808000" stroke="#808000" stroke-width="0.25">LiSbTe<tspan font-size="8.96" dy="3.8">2</tspan></text>
<text x="648.6" y="282.5" font-size="14.2" text-anchor="start" fill="#111111" stroke="#111111" stroke-width="0.25">MnTe</text>
<text x="577.7" y="217.3" font-size="11.3" text-anchor="start" fill="#1a1a1a" stroke="#1a1a1a" stroke-width="0.25">LiMn<tspan font-size="7.91" dy="3">m</tspan><tspan dy="-3">SbTe</tspan><tspan font-size="7.91" dy="3">m+2</tspan></text>
<line x1="512.2" y1="212.5" x2="537.2" y2="212.5" stroke="#3b9ad8" stroke-width="1"/>
<rect x="521.9" y="209.7" width="5.6" height="5.6" fill="#0b7bc8"/>
<text x="540.5" y="216.6" font-size="11.4" text-anchor="start" fill="#1a1a1a" stroke="#1a1a1a" stroke-width="0.25">m = 10</text>
<line x1="512.2" y1="225.5" x2="537.2" y2="225.5" stroke="#3a993a" stroke-width="1"/>
<rect x="521.9" y="222.7" width="5.6" height="5.6" fill="#098009"/>
<text x="540.5" y="229.6" font-size="11.4" text-anchor="start" fill="#1a1a1a" stroke="#1a1a1a" stroke-width="0.25">m = 5</text>
<line x1="512.2" y1="239.5" x2="537.2" y2="239.5" stroke="#d3b7a2" stroke-width="1"/>
<circle cx="524.7" cy="239.5" r="3.15" fill="#bb9578"/>
<text x="540.5" y="243.6" font-size="11.4" text-anchor="start" fill="#1a1a1a" stroke="#1a1a1a" stroke-width="0.25">m = 3</text>
<line x1="512.2" y1="253.5" x2="537.2" y2="253.5" stroke="#ffa850" stroke-width="1"/>
<path d="M524.7 249.1L528.3 255.7L521.1 255.7Z" fill="#ff8000"/>
<text x="540.5" y="257.6" font-size="11.4" text-anchor="start" fill="#1a1a1a" stroke="#1a1a1a" stroke-width="0.25">m = 2</text>
<line x1="512.2" y1="267.5" x2="537.2" y2="267.5" stroke="#d97aa0" stroke-width="1"/>
<path d="M521.1 265.3L528.3 265.3L524.7 271.9Z" fill="#c2336b"/>
<text x="540.5" y="271.6" font-size="11.4" text-anchor="start" fill="#1a1a1a" stroke="#1a1a1a" stroke-width="0.25">m = 1</text>
<text x="472.3" y="212.7" font-size="25.5" text-anchor="start" fill="#111111" stroke="#111111" stroke-width="0.25">f</text>
<text transform="translate(477.9 270.5) rotate(-90)" x="0" y="0" font-size="16.5" text-anchor="middle" fill="#1a1a1a" stroke="#1a1a1a" stroke-width="0.25"><tspan font-style="italic">ZT</tspan></text>
<text x="578.2" y="385.7" font-size="16.3" fill="#1a1a1a" font-style="italic" stroke="#1a1a1a" stroke-width="0.25">T</text><text x="590.8" y="385.7" font-size="16.3" fill="#1a1a1a" stroke="#1a1a1a" stroke-width="0.25">(K)</text>
</svg>
</body></html>
